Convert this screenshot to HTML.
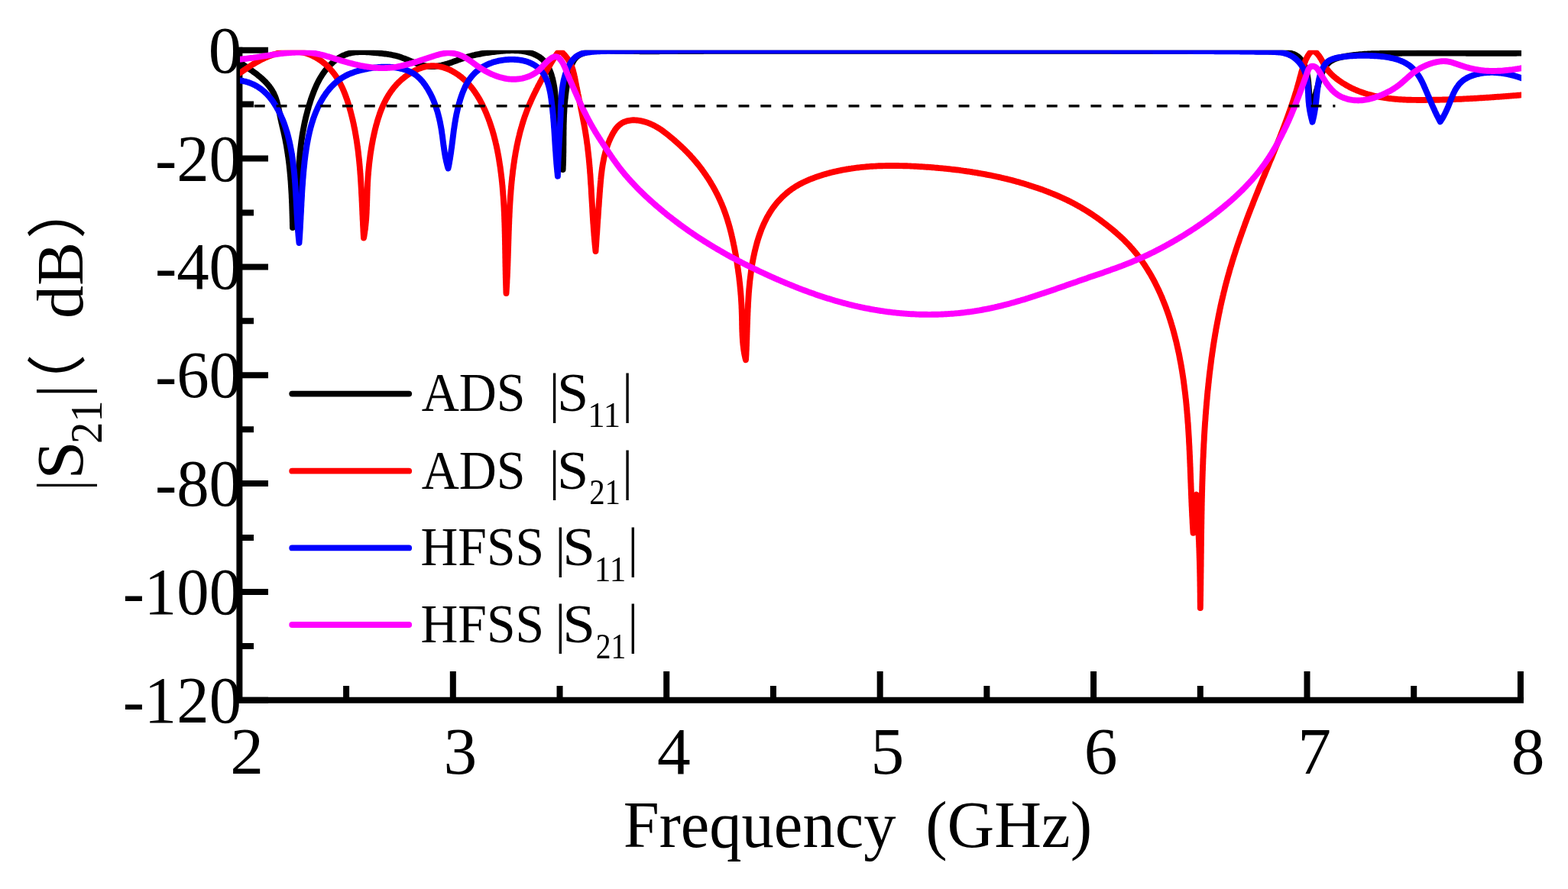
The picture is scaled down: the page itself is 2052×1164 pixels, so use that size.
<!DOCTYPE html>
<html><head><meta charset="utf-8"><title>S-parameters</title>
<style>html,body{margin:0;padding:0;background:#fff;}svg{display:block;}</style></head>
<body>
<svg width="2052" height="1164" viewBox="0 0 2052 1164">
<rect width="2052" height="1164" fill="#fff"/>
<defs><clipPath id="c"><rect x="314" y="65.70" width="1677" height="851.10"/></clipPath></defs>
<path d="M313.4,61.70 V916.80 H1993.92" fill="none" stroke="#000" stroke-width="8.0" stroke-linejoin="miter"/>
<path d="M313.4,65.70 H351 M313.4,207.55 H351 M313.4,349.40 H351 M313.4,491.25 H351 M313.4,633.10 H351 M313.4,774.95 H351 M313.4,916.80 H351 M313.4,136.62 H332 M313.4,278.48 H332 M313.4,420.32 H332 M313.4,562.18 H332 M313.4,704.03 H332 M313.4,845.88 H332 M592.82,916.80 V879 M872.24,916.80 V879 M1151.66,916.80 V879 M1431.08,916.80 V879 M1710.50,916.80 V879 M1989.92,916.80 V879 M453.11,916.80 V898 M732.53,916.80 V898 M1011.95,916.80 V898 M1291.37,916.80 V898 M1570.79,916.80 V898 M1850.21,916.80 V898" stroke="#000" stroke-width="8.0" fill="none"/>
<g clip-path="url(#c)" fill="none" stroke-width="7.90" stroke-linejoin="round" stroke-linecap="round">
<path stroke="#000" d="M314.0 82.0L315.3 82.9 316.6 83.7 318.0 84.6 319.3 85.5 320.6 86.4 322.0 87.3 323.3 88.2 324.7 89.1 326.0 90.0 327.4 91.0 328.7 91.9 330.1 92.8 331.4 93.8 332.7 94.8 334.0 95.7 335.3 96.7 336.6 97.7 337.9 98.8 339.2 99.8 340.4 100.8 341.7 101.9 342.9 103.0 344.1 104.1 345.2 105.2 346.4 106.3 347.5 107.4 348.6 108.6 349.7 109.8 350.7 111.0 351.7 112.2 352.7 113.4 353.6 114.7 354.5 116.0 355.4 117.3 356.2 118.6 357.0 120.0 357.8 121.3 358.5 122.7 359.1 124.1 359.8 125.6 360.4 127.1 360.9 128.5 361.4 130.0 361.9 131.6 362.4 133.1 362.8 134.7 363.2 136.2 363.6 137.8 364.0 139.4 364.4 141.0 364.7 142.6 365.0 144.2 365.4 145.8 365.7 147.4 366.0 149.0 366.3 150.6 366.6 152.2 367.0 153.9 367.3 155.5 367.6 157.1 368.0 158.6 368.3 160.2 368.7 161.8 369.1 163.4 369.4 165.0 369.8 166.5 370.2 168.1 370.5 169.7 370.9 171.2 371.3 172.8 371.6 174.4 372.0 175.9 372.3 177.5 372.6 179.1 373.0 180.7 373.3 182.2 373.6 183.8 373.9 185.4 374.2 187.0 374.5 188.6 374.8 190.1 375.1 191.7 375.3 193.3 375.6 194.9 375.8 196.5 376.1 198.1 376.3 199.7 376.6 201.3 376.8 202.9 377.0 204.5 377.3 206.1 377.5 207.7 377.7 209.3 377.9 210.9 378.1 212.5 378.3 214.1 378.5 215.7 378.7 217.3 378.8 218.9 379.0 220.5 379.2 222.1 379.3 223.7 379.5 225.3 379.6 226.9 379.8 228.6 379.9 230.2 380.1 231.8 380.2 233.4 380.3 235.0 380.5 236.6 380.6 238.2 380.7 239.8 380.8 241.5 380.9 243.1 381.0 244.7 381.1 246.3 381.2 247.9 381.3 249.5 381.4 251.2 381.5 252.8 381.6 254.4 381.7 256.0 381.7 257.6 381.8 259.3 381.9 260.9 382.0 262.5 382.0 264.1 382.1 265.7 382.2 267.3 382.2 269.0 382.3 270.6 382.3 272.2 382.4 273.8 382.4 275.4 382.5 277.0 382.5 278.7 382.6 280.3 382.6 281.9 382.7 283.5 382.7 285.1 382.8 286.7 382.8 288.3 382.8 290.0 382.9 291.6 382.9 293.2 382.9 294.8 383.0 296.4 383.0 298.0 383.2 296.4 383.3 294.8 383.5 293.2 383.7 291.6 383.9 290.0 384.1 288.4 384.3 286.8 384.5 285.2 384.7 283.6 385.0 282.0 385.2 280.4 385.4 278.9 385.6 277.3 385.9 275.7 386.1 274.1 386.3 272.5 386.5 270.9 386.8 269.3 387.0 267.7 387.2 266.1 387.4 264.6 387.6 263.0 387.8 261.4 388.1 259.8 388.3 258.2 388.4 256.6 388.6 255.0 388.8 253.4 389.0 251.8 389.2 250.2 389.3 248.6 389.5 247.0 389.6 245.4 389.7 243.8 389.9 242.2 390.0 240.6 390.1 239.0 390.2 237.4 390.3 235.8 390.4 234.2 390.5 232.6 390.6 230.9 390.7 229.3 390.8 227.7 390.9 226.1 391.0 224.5 391.0 222.9 391.1 221.3 391.2 219.7 391.3 218.1 391.4 216.4 391.5 214.8 391.6 213.2 391.7 211.6 391.8 210.0 392.0 208.4 392.1 206.8 392.2 205.2 392.4 203.6 392.5 202.0 392.6 200.4 392.8 198.8 393.0 197.2 393.1 195.6 393.3 194.0 393.5 192.4 393.7 190.9 393.9 189.3 394.1 187.7 394.3 186.1 394.5 184.5 394.7 182.9 395.0 181.3 395.2 179.8 395.4 178.2 395.7 176.6 395.9 175.0 396.2 173.5 396.5 171.9 396.8 170.3 397.1 168.7 397.4 167.2 397.7 165.6 398.0 164.0 398.3 162.5 398.6 160.9 399.0 159.3 399.3 157.8 399.7 156.2 400.0 154.6 400.4 153.1 400.8 151.5 401.2 150.0 401.6 148.4 402.0 146.9 402.4 145.3 402.8 143.8 403.3 142.2 403.7 140.7 404.1 139.1 404.6 137.6 405.1 136.0 405.6 134.5 406.0 132.9 406.5 131.4 407.0 129.8 407.6 128.3 408.1 126.8 408.6 125.2 409.2 123.7 409.8 122.2 410.3 120.7 410.9 119.2 411.5 117.7 412.2 116.2 412.8 114.7 413.5 113.2 414.1 111.7 414.8 110.2 415.5 108.8 416.2 107.4 417.0 105.9 417.7 104.5 418.5 103.1 419.3 101.7 420.2 100.3 421.0 99.0 421.9 97.6 422.8 96.3 423.7 95.0 424.6 93.7 425.6 92.4 426.6 91.2 427.6 89.9 428.6 88.7 429.7 87.5 430.8 86.3 431.9 85.2 433.0 84.1 434.2 83.0 435.4 81.9 436.6 80.8 437.8 79.8 439.0 78.9 440.3 77.9 441.6 77.0 442.9 76.1 444.3 75.3 445.6 74.5 447.0 73.8 448.4 73.1 449.8 72.4 451.3 71.8 452.7 71.2 454.2 70.7 455.7 70.2 457.2 69.8 458.8 69.5 460.3 69.1 461.9 68.9 463.5 68.6 465.0 68.4 466.6 68.3 468.3 68.2 469.9 68.1 471.5 68.1 473.1 68.0 474.8 68.0 476.4 68.1 478.1 68.1 479.7 68.2 481.3 68.3 483.0 68.4 484.6 68.5 486.3 68.7 487.9 68.8 489.6 69.0 491.2 69.1 492.8 69.3 494.4 69.4 496.0 69.6 497.6 69.8 499.2 69.9 500.8 70.1 502.4 70.3 503.9 70.5 505.5 70.7 507.1 70.9 508.6 71.2 510.2 71.4 511.7 71.7 513.2 72.0 514.8 72.3 516.3 72.6 517.9 73.0 519.4 73.4 520.9 73.8 522.5 74.3 524.0 74.8 525.5 75.3 527.0 75.9 528.6 76.4 530.1 77.0 531.6 77.6 533.2 78.2 534.7 78.9 536.2 79.5 537.7 80.1 539.3 80.7 540.8 81.4 542.3 82.0 543.9 82.5 545.4 83.1 546.9 83.7 548.5 84.2 550.0 84.7 551.5 85.1 553.0 85.5 554.6 85.9 556.1 86.2 557.7 86.5 559.2 86.7 560.7 86.9 562.3 87.0 563.8 87.1 565.3 87.1 566.9 87.0 568.4 87.0 570.0 86.8 571.5 86.6 573.1 86.4 574.6 86.1 576.2 85.8 577.7 85.5 579.3 85.1 580.8 84.7 582.4 84.3 583.9 83.9 585.5 83.4 587.0 82.9 588.6 82.4 590.1 81.9 591.7 81.4 593.2 80.8 594.8 80.3 596.3 79.7 597.9 79.2 599.4 78.6 600.9 78.1 602.5 77.5 604.0 77.0 605.6 76.5 607.1 76.0 608.7 75.4 610.2 75.0 611.8 74.5 613.3 74.0 614.9 73.6 616.4 73.2 617.9 72.8 619.5 72.4 621.0 72.1 622.6 71.7 624.1 71.4 625.7 71.1 627.2 70.8 628.8 70.5 630.3 70.2 631.9 69.9 633.4 69.7 635.0 69.4 636.6 69.2 638.1 69.0 639.7 68.8 641.3 68.5 642.9 68.3 644.4 68.1 646.0 68.0 647.6 67.8 649.2 67.6 650.8 67.4 652.5 67.2 654.1 67.1 655.7 66.9 657.3 66.8 659.0 66.6 660.6 66.5 662.2 66.4 663.9 66.3 665.5 66.2 667.1 66.2 668.8 66.1 670.4 66.1 672.0 66.1 673.7 66.2 675.3 66.2 676.9 66.3 678.5 66.4 680.1 66.5 681.7 66.7 683.3 66.9 684.9 67.1 686.5 67.4 688.1 67.7 689.7 68.0 691.2 68.4 692.8 68.8 694.3 69.3 695.8 69.8 697.3 70.3 698.8 70.9 700.2 71.6 701.6 72.2 703.0 73.0 704.4 73.7 705.7 74.6 706.9 75.4 708.2 76.4 709.4 77.4 710.5 78.4 711.6 79.5 712.6 80.6 713.6 81.8 714.6 83.1 715.5 84.4 716.3 85.7 717.1 87.1 717.8 88.5 718.5 89.9 719.2 91.4 719.8 92.9 720.4 94.5 721.0 96.0 721.5 97.5 722.0 99.1 722.4 100.7 722.9 102.2 723.3 103.8 723.6 105.4 724.0 107.0 724.3 108.6 724.6 110.1 724.9 111.7 725.2 113.3 725.4 114.9 725.7 116.5 725.9 118.1 726.1 119.7 726.3 121.3 726.4 122.9 726.6 124.5 726.8 126.1 726.9 127.7 727.0 129.3 727.2 131.0 727.3 132.6 727.4 134.2 727.5 135.8 727.6 137.4 727.7 139.0 727.8 140.6 728.0 142.2 728.1 143.8 728.2 145.4 728.3 147.0 728.4 148.6 728.5 150.2 728.6 151.8 728.7 153.4 728.9 155.0 729.0 156.6 729.1 158.2 729.2 159.8 729.3 161.4 729.5 163.0 729.6 164.6 729.7 166.2 729.8 167.8 730.0 169.4 730.1 171.0 730.3 172.6 730.4 174.2 730.5 175.8 730.7 177.4 730.8 179.0 731.0 180.6 731.2 182.2 731.3 183.8 731.5 185.4 731.7 187.0 731.8 188.6 732.0 190.2 732.2 191.8 732.4 193.4 732.6 195.0 732.8 196.6 733.0 198.1 733.2 199.7 733.4 201.3 733.6 202.9 733.8 204.5 734.0 206.1 734.3 207.7 734.5 209.3 734.7 210.9 735.0 212.5 735.2 214.1 735.5 215.6 735.8 217.2 736.0 218.8 736.3 220.4 736.6 222.0 736.7 220.4 736.7 218.8 736.8 217.2 736.9 215.7 736.9 214.1 737.0 212.5 737.0 210.9 737.1 209.3 737.1 207.7 737.1 206.1 737.2 204.5 737.2 202.8 737.2 201.2 737.3 199.6 737.3 198.0 737.3 196.4 737.3 194.8 737.3 193.2 737.3 191.6 737.4 189.9 737.4 188.3 737.4 186.7 737.4 185.1 737.4 183.5 737.4 181.9 737.4 180.3 737.4 178.6 737.5 177.0 737.5 175.4 737.5 173.8 737.5 172.2 737.5 170.6 737.6 169.0 737.6 167.4 737.6 165.8 737.6 164.2 737.7 162.6 737.7 161.0 737.8 159.4 737.8 157.8 737.9 156.2 737.9 154.6 738.0 153.0 738.0 151.4 738.1 149.8 738.2 148.2 738.3 146.6 738.4 145.1 738.4 143.5 738.5 141.9 738.7 140.3 738.8 138.7 738.9 137.2 739.0 135.6 739.1 134.0 739.3 132.4 739.4 130.8 739.6 129.2 739.8 127.6 739.9 126.1 740.1 124.5 740.3 122.9 740.5 121.3 740.7 119.7 740.9 118.1 741.2 116.5 741.4 114.9 741.7 113.3 741.9 111.7 742.2 110.1 742.5 108.5 742.7 106.9 743.0 105.3 743.4 103.7 743.7 102.0 744.0 100.4 744.4 98.8 744.7 97.2 745.1 95.5 745.5 93.9 745.9 92.3 746.3 90.6 746.8 89.0 747.3 87.4 747.8 85.9 748.4 84.4 749.0 82.9 749.6 81.5 750.4 80.1 751.2 78.8 752.0 77.5 752.9 76.4 753.9 75.3 755.0 74.3 756.2 73.4 757.4 72.5 758.7 71.8 760.0 71.1 761.4 70.4 762.9 69.9 764.3 69.4 765.8 68.9 767.4 68.5 768.9 68.1 770.5 67.8 772.1 67.5 773.6 67.3 775.2 67.1 776.8 66.9 778.4 66.7 780.0 66.6 781.6 66.5 783.2 66.4 784.8 66.4 786.4 66.3 788.0 66.3 789.6 66.3 791.2 66.3 792.8 66.3 794.4 66.3 796.0 66.4 797.7 66.4 799.3 66.5 800.9 66.5 802.5 66.6 804.1 66.6 805.7 66.7 807.4 66.7 809.0 66.8 810.6 66.8 812.2 66.8 813.8 66.9 815.4 66.9 817.0 66.9 818.6 67.0 820.3 67.0 821.9 67.0 823.5 67.0 825.1 67.1 826.7 67.1 828.3 67.1 829.9 67.1 831.5 67.1 833.1 67.1 834.7 67.1 836.3 67.1 837.9 67.2 839.6 67.2 841.2 67.2 842.8 67.2 844.4 67.2 846.0 67.2 847.6 67.2 849.2 67.2 850.8 67.2 852.4 67.2 854.0 67.2 855.6 67.2 857.2 67.2 858.8 67.2 860.4 67.2 862.0 67.2 863.6 67.1 865.2 67.1 866.8 67.1 868.4 67.1 870.0 67.1 871.6 67.1 873.2 67.1 874.8 67.1 876.4 67.1 878.1 67.1 879.7 67.1 881.3 67.1 882.9 67.1 884.5 67.1 886.1 67.1 887.7 67.1 889.3 67.0 890.9 67.0 892.5 67.0 894.1 67.0 895.7 67.0 897.3 67.0 898.9 67.0 900.5 67.0 902.1 67.0 903.7 67.0 905.3 67.0 906.9 67.0 908.5 67.0 910.1 67.0 911.7 67.0 913.3 67.0 914.9 67.0 916.5 67.0 918.1 67.0 919.7 67.0 921.3 66.9 922.9 66.9 924.5 66.9 926.2 66.9 927.8 66.9 929.4 66.9 931.0 66.9 932.6 66.9 934.2 66.9 935.8 66.9 937.4 66.9 939.0 66.9 940.6 66.9 942.2 66.9 943.8 66.9 945.4 66.9 947.0 66.9 948.6 66.9 950.2 66.9 951.8 66.9 953.4 66.9 955.0 66.9 956.6 66.9 958.2 66.9 959.8 66.9 961.4 66.9 963.0 66.9 964.6 66.8 966.2 66.8 967.8 66.8 969.4 66.8 971.0 66.8 972.7 66.8 974.3 66.8 975.9 66.8 977.5 66.8 979.1 66.8 980.7 66.8 982.3 66.8 983.9 66.8 985.5 66.8 987.1 66.8 988.7 66.8 990.3 66.8 991.9 66.8 993.5 66.8 995.1 66.8 996.7 66.8 998.3 66.8 999.9 66.8 1001.5 66.8 1003.1 66.8 1004.7 66.8 1006.3 66.8 1007.9 66.8 1009.5 66.8 1011.1 66.8 1012.7 66.8 1014.3 66.8 1015.9 66.8 1017.6 66.8 1019.2 66.8 1020.8 66.8 1022.4 66.8 1024.0 66.8 1025.6 66.8 1027.2 66.8 1028.8 66.8 1030.4 66.8 1032.0 66.8 1033.6 66.8 1035.2 66.8 1036.8 66.8 1038.4 66.8 1040.0 66.8 1041.6 66.8 1043.2 66.8 1044.8 66.7 1046.4 66.7 1048.0 66.7 1049.6 66.7 1051.2 66.7 1052.8 66.7 1054.4 66.7 1056.0 66.7 1057.6 66.7 1059.2 66.7 1060.9 66.7 1062.5 66.7 1064.1 66.7 1065.7 66.7 1067.3 66.7 1068.9 66.7 1070.5 66.7 1072.1 66.7 1073.7 66.7 1075.3 66.7 1076.9 66.7 1078.5 66.7 1080.1 66.7 1081.7 66.7 1083.3 66.7 1084.9 66.7 1086.5 66.7 1088.1 66.7 1089.7 66.7 1091.3 66.7 1092.9 66.7 1094.5 66.7 1096.1 66.7 1097.7 66.7 1099.3 66.7 1101.0 66.7 1102.6 66.7 1104.2 66.7 1105.8 66.7 1107.4 66.7 1109.0 66.7 1110.6 66.7 1112.2 66.7 1113.8 66.7 1115.4 66.7 1117.0 66.7 1118.6 66.7 1120.2 66.7 1121.8 66.7 1123.4 66.7 1125.0 66.7 1126.6 66.7 1128.2 66.7 1129.8 66.7 1131.4 66.7 1133.0 66.7 1134.6 66.7 1136.2 66.7 1137.8 66.7 1139.5 66.7 1141.1 66.7 1142.7 66.7 1144.3 66.7 1145.9 66.7 1147.5 66.7 1149.1 66.7 1150.7 66.7 1152.3 66.7 1153.9 66.8 1155.5 66.8 1157.1 66.8 1158.7 66.8 1160.3 66.8 1161.9 66.8 1163.5 66.8 1165.1 66.8 1166.7 66.8 1168.3 66.8 1169.9 66.8 1171.5 66.8 1173.1 66.8 1174.7 66.8 1176.4 66.8 1178.0 66.8 1179.6 66.8 1181.2 66.8 1182.8 66.8 1184.4 66.8 1186.0 66.8 1187.6 66.8 1189.2 66.8 1190.8 66.8 1192.4 66.8 1194.0 66.8 1195.6 66.8 1197.2 66.8 1198.8 66.8 1200.4 66.8 1202.0 66.8 1203.6 66.8 1205.2 66.8 1206.8 66.8 1208.4 66.8 1210.0 66.8 1211.7 66.8 1213.3 66.8 1214.9 66.8 1216.5 66.8 1218.1 66.8 1219.7 66.8 1221.3 66.8 1222.9 66.8 1224.5 66.8 1226.1 66.8 1227.7 66.8 1229.3 66.8 1230.9 66.8 1232.5 66.8 1234.1 66.8 1235.7 66.8 1237.3 66.8 1238.9 66.8 1240.5 66.8 1242.1 66.8 1243.7 66.8 1245.3 66.8 1247.0 66.8 1248.6 66.8 1250.2 66.8 1251.8 66.8 1253.4 66.8 1255.0 66.8 1256.6 66.8 1258.2 66.8 1259.8 66.8 1261.4 66.8 1263.0 66.8 1264.6 66.8 1266.2 66.8 1267.8 66.8 1269.4 66.8 1271.0 66.8 1272.6 66.8 1274.2 66.8 1275.8 66.8 1277.4 66.8 1279.0 66.8 1280.7 66.8 1282.3 66.8 1283.9 66.8 1285.5 66.8 1287.1 66.8 1288.7 66.8 1290.3 66.8 1291.9 66.9 1293.5 66.9 1295.1 66.9 1296.7 66.9 1298.3 66.9 1299.9 66.9 1301.5 66.9 1303.1 66.9 1304.7 66.9 1306.3 66.9 1307.9 66.9 1309.5 66.9 1311.1 66.9 1312.7 66.9 1314.4 66.9 1316.0 66.9 1317.6 66.9 1319.2 66.9 1320.8 66.9 1322.4 66.9 1324.0 66.9 1325.6 66.9 1327.2 66.9 1328.8 66.9 1330.4 66.9 1332.0 66.9 1333.6 66.9 1335.2 66.9 1336.8 66.9 1338.4 66.9 1340.0 66.9 1341.6 66.9 1343.2 66.9 1344.8 66.9 1346.4 66.9 1348.0 66.9 1349.6 66.9 1351.3 66.9 1352.9 66.9 1354.5 66.9 1356.1 66.9 1357.7 66.9 1359.3 66.9 1360.9 66.9 1362.5 66.9 1364.1 66.9 1365.7 66.9 1367.3 66.9 1368.9 66.9 1370.5 66.9 1372.1 66.9 1373.7 66.9 1375.3 66.9 1376.9 66.9 1378.5 66.9 1380.1 66.9 1381.7 66.9 1383.3 66.9 1384.9 66.9 1386.5 66.9 1388.2 66.9 1389.8 66.9 1391.4 66.9 1393.0 66.9 1394.6 66.9 1396.2 66.9 1397.8 66.9 1399.4 66.9 1401.0 66.9 1402.6 66.9 1404.2 66.9 1405.8 66.9 1407.4 66.9 1409.0 66.9 1410.6 66.9 1412.2 66.9 1413.8 66.9 1415.4 66.9 1417.0 66.9 1418.6 66.9 1420.2 66.9 1421.8 66.9 1423.4 66.9 1425.0 66.9 1426.6 66.9 1428.2 66.9 1429.8 66.9 1431.5 66.9 1433.1 66.9 1434.7 66.9 1436.3 66.9 1437.9 66.9 1439.5 66.9 1441.1 66.9 1442.7 66.9 1444.3 66.9 1445.9 66.9 1447.5 66.8 1449.1 66.8 1450.7 66.8 1452.3 66.8 1453.9 66.8 1455.5 66.8 1457.1 66.8 1458.7 66.8 1460.3 66.8 1461.9 66.8 1463.5 66.8 1465.1 66.8 1466.7 66.8 1468.3 66.8 1469.9 66.8 1471.5 66.8 1473.1 66.8 1474.7 66.8 1476.3 66.8 1477.9 66.8 1479.5 66.8 1481.1 66.8 1482.7 66.8 1484.3 66.8 1486.0 66.8 1487.6 66.8 1489.2 66.8 1490.8 66.8 1492.4 66.8 1494.0 66.8 1495.6 66.8 1497.2 66.8 1498.8 66.8 1500.4 66.8 1502.0 66.8 1503.6 66.8 1505.2 66.8 1506.8 66.8 1508.4 66.7 1510.0 66.7 1511.6 66.7 1513.2 66.7 1514.8 66.7 1516.4 66.7 1518.0 66.7 1519.6 66.7 1521.2 66.7 1522.8 66.7 1524.4 66.7 1526.0 66.7 1527.6 66.7 1529.2 66.7 1530.8 66.7 1532.4 66.7 1534.0 66.7 1535.6 66.7 1537.2 66.7 1538.8 66.7 1540.4 66.7 1542.0 66.7 1543.6 66.7 1545.2 66.7 1546.8 66.7 1548.4 66.7 1550.0 66.7 1551.6 66.7 1553.2 66.7 1554.8 66.6 1556.4 66.6 1558.0 66.6 1559.7 66.6 1561.3 66.6 1562.9 66.6 1564.5 66.6 1566.1 66.6 1567.7 66.6 1569.3 66.6 1570.9 66.6 1572.5 66.6 1574.1 66.6 1575.7 66.6 1577.3 66.6 1578.9 66.7 1580.5 66.7 1582.1 66.7 1583.7 66.7 1585.3 66.7 1586.9 66.7 1588.5 66.7 1590.1 66.7 1591.7 66.7 1593.3 66.7 1595.0 66.7 1596.6 66.7 1598.2 66.7 1599.8 66.7 1601.4 66.7 1603.0 66.7 1604.6 66.7 1606.2 66.8 1607.8 66.8 1609.4 66.8 1611.0 66.8 1612.6 66.8 1614.3 66.8 1615.9 66.8 1617.5 66.8 1619.1 66.8 1620.7 66.9 1622.3 66.9 1623.9 66.9 1625.5 66.9 1627.1 66.9 1628.8 66.9 1630.4 67.0 1632.0 67.0 1633.6 67.0 1635.2 67.0 1636.8 67.0 1638.4 67.1 1640.0 67.1 1641.7 67.1 1643.3 67.1 1644.9 67.2 1646.5 67.2 1648.1 67.2 1649.7 67.2 1651.4 67.3 1653.0 67.3 1654.6 67.3 1656.2 67.4 1657.8 67.4 1659.5 67.4 1661.1 67.5 1662.7 67.5 1664.3 67.5 1665.9 67.6 1667.6 67.6 1669.2 67.6 1670.8 67.7 1672.4 67.7 1674.0 67.8 1675.6 67.8 1677.2 67.9 1678.8 68.0 1680.4 68.2 1682.0 68.3 1683.5 68.5 1685.0 68.7 1686.5 69.0 1688.0 69.3 1689.4 69.7 1690.9 70.2 1692.2 70.6 1693.6 71.2 1694.9 71.8 1696.2 72.5 1697.4 73.3 1698.6 74.1 1699.7 75.0 1700.8 76.1 1701.9 77.2 1702.8 78.4 1703.8 79.7 1704.7 81.1 1705.5 82.5 1706.3 84.1 1707.0 85.7 1707.7 87.3 1708.3 89.0 1708.9 90.7 1709.4 92.4 1709.9 94.2 1710.3 95.9 1710.7 97.6 1711.0 99.3 1711.3 101.0 1711.6 102.7 1711.8 104.3 1712.0 105.9 1712.2 107.5 1712.3 109.0 1712.4 110.6 1712.6 112.1 1712.7 113.6 1712.8 115.2 1712.9 116.7 1713.0 118.2 1713.1 119.7 1713.2 121.2 1713.4 122.7 1713.6 124.2 1713.8 125.7 1714.0 127.2 1714.3 128.8 1714.6 130.3 1714.9 131.9 1715.3 133.5 1715.8 135.1 1716.3 136.7 1716.9 138.3 1717.5 140.0 1717.9 138.4 1718.2 136.9 1718.6 135.3 1719.0 133.7 1719.4 132.2 1719.8 130.6 1720.2 129.1 1720.6 127.5 1721.0 126.0 1721.4 124.4 1721.8 122.9 1722.2 121.4 1722.6 119.8 1723.1 118.2 1723.5 116.7 1723.9 115.1 1724.4 113.6 1724.8 112.0 1725.2 110.4 1725.7 108.8 1726.1 107.2 1726.6 105.6 1727.1 104.1 1727.5 102.5 1728.1 100.9 1728.6 99.3 1729.1 97.8 1729.7 96.3 1730.4 94.8 1731.0 93.3 1731.7 91.8 1732.5 90.4 1733.3 89.1 1734.1 87.7 1735.0 86.5 1735.9 85.3 1736.9 84.1 1738.0 83.0 1739.1 82.0 1740.3 81.0 1741.5 80.2 1742.8 79.4 1744.1 78.6 1745.5 77.9 1746.9 77.3 1748.4 76.8 1749.9 76.3 1751.5 75.8 1753.0 75.4 1754.6 75.0 1756.2 74.6 1757.8 74.3 1759.5 74.0 1761.1 73.7 1762.7 73.4 1764.3 73.1 1766.0 72.9 1767.6 72.6 1769.2 72.4 1770.8 72.2 1772.5 72.0 1774.1 71.8 1775.7 71.6 1777.4 71.5 1779.0 71.3 1780.6 71.2 1782.2 71.1 1783.8 70.9 1785.4 70.8 1787.1 70.7 1788.7 70.6 1790.3 70.5 1791.9 70.5 1793.5 70.4 1795.1 70.3 1796.7 70.3 1798.3 70.2 1799.9 70.2 1801.6 70.1 1803.2 70.1 1804.8 70.1 1806.4 70.0 1808.0 70.0 1809.6 70.0 1811.2 69.9 1812.8 69.9 1814.4 69.9 1816.0 69.9 1817.6 69.8 1819.2 69.8 1820.9 69.8 1822.5 69.8 1824.1 69.8 1825.7 69.7 1827.3 69.7 1828.9 69.7 1830.5 69.7 1832.1 69.7 1833.7 69.7 1835.3 69.6 1837.0 69.6 1838.6 69.6 1840.2 69.6 1841.8 69.6 1843.4 69.6 1845.0 69.6 1846.6 69.6 1848.2 69.6 1849.9 69.6 1851.5 69.6 1853.1 69.6 1854.7 69.5 1856.3 69.5 1857.9 69.5 1859.5 69.5 1861.2 69.5 1862.8 69.5 1864.4 69.5 1866.0 69.5 1867.6 69.5 1869.2 69.5 1870.8 69.5 1872.5 69.5 1874.1 69.5 1875.7 69.5 1877.3 69.5 1878.9 69.5 1880.5 69.5 1882.2 69.5 1883.8 69.5 1885.4 69.5 1887.0 69.5 1888.6 69.6 1890.2 69.6 1891.9 69.6 1893.5 69.6 1895.1 69.6 1896.7 69.6 1898.3 69.6 1899.9 69.6 1901.6 69.6 1903.2 69.6 1904.8 69.6 1906.4 69.6 1908.0 69.6 1909.6 69.6 1911.3 69.6 1912.9 69.6 1914.5 69.6 1916.1 69.6 1917.7 69.6 1919.3 69.7 1921.0 69.7 1922.6 69.7 1924.2 69.7 1925.8 69.7 1927.4 69.7 1929.0 69.7 1930.7 69.7 1932.3 69.7 1933.9 69.7 1935.5 69.7 1937.1 69.7 1938.7 69.7 1940.4 69.7 1942.0 69.7 1943.6 69.7 1945.2 69.7 1946.8 69.7 1948.4 69.7 1950.0 69.7 1951.7 69.7 1953.3 69.7 1954.9 69.7 1956.5 69.7 1958.1 69.7 1959.7 69.7 1961.4 69.7 1963.0 69.7 1964.6 69.7 1966.2 69.7 1967.8 69.7 1969.4 69.7 1971.0 69.7 1972.7 69.7 1974.3 69.7 1975.9 69.7 1977.5 69.7 1979.1 69.7 1980.7 69.7 1982.3 69.7 1983.9 69.7 1985.6 69.6 1987.2 69.6 1988.8 69.6 1990.4 69.6 1992.0 69.6"/>
<path stroke="#f00" d="M314.0 95.5L315.3 94.6 316.7 93.7 318.0 92.8 319.3 91.9 320.7 91.0 322.0 90.1 323.3 89.2 324.7 88.3 326.0 87.4 327.4 86.5 328.7 85.7 330.1 84.8 331.4 84.0 332.8 83.2 334.2 82.4 335.6 81.6 337.0 80.8 338.4 80.0 339.8 79.2 341.2 78.5 342.6 77.8 344.0 77.1 345.5 76.4 346.9 75.7 348.4 75.1 349.9 74.4 351.4 73.8 352.9 73.2 354.4 72.7 356.0 72.1 357.5 71.6 359.1 71.1 360.6 70.7 362.2 70.2 363.8 69.8 365.4 69.4 367.0 69.1 368.6 68.8 370.2 68.5 371.8 68.2 373.5 68.0 375.1 67.8 376.7 67.6 378.3 67.5 379.9 67.4 381.6 67.3 383.2 67.3 384.8 67.3 386.4 67.4 388.0 67.5 389.6 67.6 391.2 67.8 392.7 68.0 394.3 68.3 395.9 68.6 397.4 68.9 398.9 69.3 400.5 69.8 402.0 70.2 403.5 70.7 404.9 71.3 406.4 71.9 407.9 72.5 409.3 73.2 410.7 73.9 412.1 74.6 413.5 75.4 414.9 76.2 416.3 77.0 417.6 77.9 418.9 78.8 420.2 79.7 421.5 80.6 422.8 81.6 424.0 82.6 425.2 83.7 426.5 84.7 427.6 85.8 428.8 87.0 430.0 88.1 431.1 89.3 432.2 90.4 433.2 91.7 434.3 92.9 435.3 94.1 436.3 95.4 437.3 96.7 438.3 98.0 439.2 99.3 440.1 100.6 441.0 102.0 441.9 103.4 442.7 104.7 443.5 106.1 444.3 107.5 445.1 108.9 445.8 110.4 446.5 111.8 447.2 113.3 447.9 114.7 448.6 116.2 449.2 117.7 449.9 119.2 450.5 120.7 451.1 122.2 451.7 123.7 452.2 125.2 452.8 126.7 453.3 128.3 453.9 129.8 454.4 131.3 454.9 132.9 455.4 134.4 455.9 136.0 456.3 137.5 456.8 139.1 457.3 140.6 457.7 142.2 458.1 143.7 458.6 145.3 459.0 146.8 459.4 148.4 459.8 150.0 460.2 151.5 460.6 153.1 461.0 154.7 461.4 156.2 461.7 157.8 462.1 159.4 462.4 160.9 462.8 162.5 463.1 164.1 463.4 165.7 463.7 167.2 464.1 168.8 464.4 170.4 464.7 172.0 464.9 173.6 465.2 175.1 465.5 176.7 465.8 178.3 466.0 179.9 466.3 181.5 466.6 183.1 466.8 184.6 467.0 186.2 467.3 187.8 467.5 189.4 467.7 191.0 467.9 192.6 468.2 194.2 468.4 195.8 468.6 197.4 468.8 199.0 469.0 200.6 469.1 202.2 469.3 203.8 469.5 205.4 469.7 207.0 469.8 208.6 470.0 210.2 470.2 211.8 470.3 213.4 470.5 215.0 470.6 216.6 470.8 218.2 470.9 219.8 471.0 221.4 471.2 223.0 471.3 224.6 471.4 226.2 471.5 227.8 471.7 229.4 471.8 231.0 471.9 232.7 472.0 234.3 472.1 235.9 472.2 237.5 472.3 239.1 472.4 240.7 472.5 242.3 472.6 243.9 472.7 245.5 472.8 247.1 472.9 248.8 473.0 250.4 473.0 252.0 473.1 253.6 473.2 255.2 473.3 256.8 473.4 258.4 473.5 260.0 473.5 261.6 473.6 263.3 473.7 264.9 473.8 266.5 473.8 268.1 473.9 269.7 474.0 271.3 474.1 272.9 474.1 274.5 474.2 276.1 474.3 277.8 474.3 279.4 474.4 281.0 474.5 282.6 474.6 284.2 474.6 285.8 474.7 287.4 474.8 289.0 474.9 290.6 475.0 292.2 475.0 293.8 475.1 295.5 475.2 297.1 475.3 298.7 475.4 300.3 475.4 301.9 475.5 303.5 475.6 305.1 475.7 306.7 475.8 308.3 475.9 309.9 476.0 311.5 476.3 309.9 476.6 308.4 476.8 306.8 477.1 305.2 477.3 303.6 477.5 302.1 477.8 300.5 478.0 298.9 478.1 297.3 478.3 295.7 478.5 294.1 478.6 292.5 478.8 290.9 478.9 289.3 479.1 287.7 479.2 286.1 479.3 284.5 479.4 282.9 479.5 281.3 479.6 279.7 479.7 278.1 479.7 276.5 479.8 274.9 479.9 273.3 479.9 271.7 480.0 270.1 480.1 268.5 480.1 266.9 480.2 265.2 480.2 263.6 480.3 262.0 480.3 260.4 480.4 258.8 480.4 257.2 480.5 255.6 480.5 254.0 480.6 252.4 480.6 250.7 480.7 249.1 480.8 247.5 480.8 245.9 480.9 244.3 481.0 242.7 481.0 241.1 481.1 239.5 481.2 237.9 481.3 236.3 481.4 234.7 481.5 233.1 481.6 231.5 481.7 229.9 481.9 228.3 482.0 226.7 482.1 225.1 482.3 223.5 482.4 221.9 482.6 220.3 482.7 218.7 482.9 217.1 483.0 215.5 483.2 213.9 483.4 212.3 483.6 210.7 483.8 209.1 484.0 207.5 484.2 205.9 484.4 204.3 484.6 202.7 484.8 201.2 485.1 199.6 485.3 198.0 485.6 196.4 485.8 194.8 486.1 193.2 486.4 191.6 486.6 190.0 486.9 188.5 487.2 186.9 487.5 185.3 487.8 183.7 488.1 182.1 488.4 180.6 488.8 179.0 489.1 177.4 489.5 175.8 489.8 174.2 490.2 172.7 490.5 171.1 490.9 169.5 491.3 167.9 491.7 166.4 492.1 164.8 492.5 163.2 493.0 161.7 493.4 160.1 493.9 158.6 494.3 157.0 494.8 155.5 495.3 153.9 495.8 152.4 496.3 150.9 496.8 149.3 497.4 147.8 497.9 146.3 498.5 144.8 499.1 143.3 499.7 141.8 500.3 140.4 500.9 138.9 501.6 137.4 502.3 136.0 503.0 134.6 503.7 133.1 504.4 131.7 505.1 130.3 505.9 128.9 506.7 127.6 507.5 126.2 508.3 124.8 509.1 123.5 510.0 122.2 510.9 120.8 511.8 119.5 512.7 118.3 513.7 117.0 514.6 115.7 515.6 114.5 516.6 113.3 517.7 112.1 518.7 110.9 519.8 109.7 520.9 108.6 522.1 107.4 523.3 106.3 524.4 105.2 525.7 104.1 526.9 103.1 528.2 102.1 529.5 101.0 530.8 100.0 532.1 99.1 533.5 98.1 534.8 97.2 536.2 96.3 537.6 95.4 539.1 94.6 540.5 93.8 542.0 93.0 543.4 92.2 544.9 91.5 546.4 90.8 547.9 90.2 549.4 89.6 551.0 89.0 552.5 88.5 554.0 88.0 555.6 87.6 557.1 87.2 558.7 86.9 560.3 86.7 561.8 86.5 563.4 86.3 565.0 86.3 566.5 86.2 568.1 86.3 569.7 86.4 571.2 86.5 572.8 86.7 574.3 87.0 575.9 87.3 577.4 87.6 579.0 88.0 580.5 88.4 582.0 88.9 583.5 89.4 585.0 90.0 586.5 90.6 587.9 91.2 589.4 91.9 590.8 92.6 592.3 93.4 593.7 94.2 595.1 95.0 596.4 95.8 597.8 96.7 599.1 97.6 600.4 98.5 601.7 99.5 603.0 100.4 604.2 101.4 605.4 102.5 606.6 103.5 607.8 104.6 609.0 105.7 610.1 106.8 611.2 107.9 612.3 109.1 613.4 110.3 614.4 111.4 615.5 112.7 616.5 113.9 617.5 115.1 618.5 116.4 619.5 117.7 620.4 119.0 621.3 120.3 622.2 121.6 623.1 123.0 624.0 124.3 624.9 125.7 625.7 127.1 626.5 128.4 627.4 129.9 628.2 131.3 628.9 132.7 629.7 134.1 630.5 135.6 631.2 137.0 631.9 138.5 632.6 139.9 633.3 141.4 634.0 142.9 634.7 144.4 635.3 145.9 636.0 147.4 636.6 148.9 637.2 150.4 637.8 151.9 638.4 153.4 639.0 154.9 639.6 156.4 640.1 157.9 640.7 159.4 641.2 160.9 641.7 162.5 642.2 164.0 642.7 165.5 643.2 167.0 643.7 168.6 644.2 170.1 644.7 171.7 645.1 173.2 645.5 174.7 646.0 176.3 646.4 177.8 646.8 179.4 647.2 180.9 647.6 182.5 648.0 184.0 648.4 185.6 648.7 187.1 649.1 188.7 649.5 190.3 649.8 191.8 650.1 193.4 650.5 195.0 650.8 196.5 651.1 198.1 651.4 199.7 651.7 201.2 652.0 202.8 652.3 204.4 652.6 206.0 652.8 207.5 653.1 209.1 653.3 210.7 653.6 212.3 653.8 213.9 654.1 215.4 654.3 217.0 654.6 218.6 654.8 220.2 655.0 221.8 655.2 223.4 655.4 225.0 655.6 226.6 655.8 228.1 656.0 229.7 656.2 231.3 656.4 232.9 656.6 234.5 656.7 236.1 656.9 237.7 657.1 239.3 657.2 240.9 657.4 242.5 657.5 244.1 657.7 245.7 657.8 247.3 657.9 248.9 658.1 250.5 658.2 252.1 658.3 253.7 658.4 255.3 658.6 256.9 658.7 258.5 658.8 260.1 658.9 261.7 659.0 263.3 659.1 264.9 659.2 266.5 659.3 268.2 659.4 269.8 659.5 271.4 659.6 273.0 659.6 274.6 659.7 276.2 659.8 277.8 659.9 279.4 659.9 281.0 660.0 282.6 660.1 284.2 660.1 285.9 660.2 287.5 660.2 289.1 660.3 290.7 660.4 292.3 660.4 293.9 660.5 295.5 660.5 297.1 660.6 298.8 660.6 300.4 660.6 302.0 660.7 303.6 660.7 305.2 660.8 306.8 660.8 308.4 660.8 310.0 660.9 311.7 660.9 313.3 660.9 314.9 661.0 316.5 661.0 318.1 661.0 319.7 661.1 321.3 661.1 323.0 661.1 324.6 661.1 326.2 661.2 327.8 661.2 329.4 661.2 331.0 661.3 332.6 661.3 334.2 661.3 335.9 661.3 337.5 661.4 339.1 661.4 340.7 661.4 342.3 661.4 343.9 661.5 345.5 661.5 347.1 661.5 348.7 661.6 350.3 661.6 351.9 661.6 353.6 661.7 355.2 661.7 356.8 661.7 358.4 661.8 360.0 661.8 361.6 661.8 363.2 661.9 364.8 661.9 366.4 662.0 368.0 662.0 369.6 662.1 371.2 662.1 372.8 662.2 374.4 662.2 376.0 662.3 377.6 662.3 379.2 662.4 380.8 662.4 382.4 662.5 384.0 662.6 382.4 662.7 380.8 662.8 379.2 662.9 377.6 663.0 376.0 663.1 374.4 663.2 372.8 663.3 371.2 663.4 369.6 663.4 367.9 663.5 366.3 663.6 364.7 663.7 363.1 663.8 361.5 663.8 359.9 663.9 358.3 664.0 356.7 664.0 355.1 664.1 353.5 664.2 351.9 664.2 350.3 664.3 348.7 664.4 347.1 664.4 345.5 664.5 343.8 664.5 342.2 664.6 340.6 664.6 339.0 664.7 337.4 664.7 335.8 664.8 334.2 664.8 332.6 664.9 331.0 664.9 329.4 665.0 327.8 665.0 326.2 665.1 324.6 665.1 322.9 665.2 321.3 665.2 319.7 665.3 318.1 665.3 316.5 665.4 314.9 665.4 313.3 665.5 311.7 665.5 310.1 665.6 308.5 665.6 306.9 665.7 305.3 665.7 303.7 665.8 302.0 665.9 300.4 665.9 298.8 666.0 297.2 666.0 295.6 666.1 294.0 666.2 292.4 666.2 290.8 666.3 289.2 666.3 287.6 666.4 286.0 666.5 284.4 666.6 282.8 666.6 281.2 666.7 279.6 666.8 277.9 666.9 276.3 666.9 274.7 667.0 273.1 667.1 271.5 667.2 269.9 667.3 268.3 667.4 266.7 667.5 265.1 667.6 263.5 667.7 261.9 667.8 260.3 667.9 258.7 668.0 257.1 668.1 255.5 668.3 253.9 668.4 252.3 668.5 250.7 668.6 249.1 668.8 247.5 668.9 245.9 669.0 244.3 669.2 242.7 669.3 241.1 669.5 239.5 669.6 237.9 669.8 236.3 670.0 234.7 670.1 233.1 670.3 231.5 670.5 229.9 670.7 228.3 670.9 226.7 671.0 225.1 671.2 223.5 671.4 221.9 671.7 220.3 671.9 218.7 672.1 217.1 672.3 215.5 672.5 213.9 672.8 212.4 673.0 210.8 673.2 209.2 673.5 207.6 673.7 206.0 674.0 204.4 674.3 202.8 674.5 201.2 674.8 199.6 675.1 198.1 675.4 196.5 675.7 194.9 676.0 193.3 676.3 191.7 676.6 190.1 677.0 188.6 677.3 187.0 677.6 185.4 678.0 183.8 678.3 182.3 678.7 180.7 679.1 179.1 679.5 177.6 679.8 176.0 680.2 174.5 680.6 172.9 681.0 171.3 681.5 169.8 681.9 168.2 682.3 166.7 682.8 165.2 683.2 163.6 683.7 162.1 684.2 160.5 684.6 159.0 685.1 157.5 685.6 156.0 686.1 154.4 686.6 152.9 687.2 151.4 687.7 149.9 688.3 148.4 688.8 146.9 689.4 145.4 690.0 143.9 690.5 142.4 691.1 140.9 691.7 139.4 692.4 137.9 693.0 136.4 693.6 135.0 694.3 133.5 694.9 132.0 695.6 130.6 696.2 129.1 696.9 127.6 697.6 126.2 698.3 124.7 699.0 123.3 699.7 121.8 700.4 120.4 701.1 119.0 701.8 117.5 702.6 116.1 703.3 114.7 704.0 113.2 704.8 111.8 705.5 110.4 706.3 109.0 707.0 107.5 707.8 106.1 708.6 104.7 709.3 103.3 710.1 101.9 710.9 100.5 711.7 99.1 712.5 97.7 713.3 96.3 714.0 94.9 714.8 93.5 715.6 92.1 716.4 90.7 717.2 89.4 718.0 88.0 718.8 86.6 719.6 85.2 720.4 83.8 721.2 82.5 722.0 81.1 722.9 79.7 723.7 78.3 724.6 76.9 725.4 75.5 726.4 74.1 727.3 72.7 728.3 71.3 729.3 69.9 730.4 68.7 731.5 67.9 732.6 67.5 733.9 67.7 735.1 68.4 736.4 69.4 737.6 70.7 738.8 71.9 739.9 73.2 741.0 74.5 742.0 75.9 743.0 77.2 743.9 78.6 744.7 80.0 745.5 81.4 746.3 82.9 747.0 84.3 747.7 85.8 748.3 87.3 748.8 88.8 749.3 90.3 749.8 91.8 750.2 93.4 750.6 94.9 751.0 96.5 751.4 98.0 751.7 99.6 752.1 101.1 752.4 102.7 752.7 104.3 753.0 105.8 753.3 107.4 753.6 109.0 753.9 110.6 754.2 112.1 754.5 113.7 754.8 115.3 755.2 116.9 755.5 118.4 755.8 120.0 756.1 121.6 756.4 123.2 756.8 124.7 757.1 126.3 757.4 127.9 757.7 129.5 758.1 131.0 758.4 132.6 758.7 134.2 759.0 135.8 759.4 137.3 759.7 138.9 760.0 140.5 760.3 142.1 760.6 143.7 761.0 145.2 761.3 146.8 761.6 148.4 761.9 150.0 762.2 151.6 762.5 153.1 762.8 154.7 763.1 156.3 763.4 157.9 763.7 159.5 764.0 161.0 764.3 162.6 764.6 164.2 764.9 165.8 765.2 167.4 765.4 169.0 765.7 170.6 766.0 172.1 766.2 173.7 766.5 175.3 766.7 176.9 767.0 178.5 767.2 180.1 767.5 181.7 767.7 183.3 767.9 184.9 768.1 186.4 768.3 188.0 768.6 189.6 768.8 191.2 769.0 192.8 769.2 194.4 769.3 196.0 769.5 197.6 769.7 199.2 769.9 200.8 770.1 202.4 770.2 204.0 770.4 205.6 770.6 207.2 770.7 208.8 770.9 210.4 771.0 212.0 771.2 213.6 771.3 215.2 771.5 216.8 771.6 218.4 771.7 220.0 771.9 221.6 772.0 223.2 772.1 224.8 772.2 226.4 772.4 228.0 772.5 229.6 772.6 231.2 772.7 232.8 772.8 234.4 772.9 236.0 773.0 237.6 773.1 239.2 773.2 240.8 773.4 242.4 773.5 244.0 773.6 245.6 773.7 247.2 773.8 248.8 773.8 250.4 773.9 252.1 774.0 253.7 774.1 255.3 774.2 256.9 774.3 258.5 774.4 260.1 774.5 261.7 774.6 263.3 774.7 264.9 774.8 266.5 774.9 268.1 775.0 269.7 775.1 271.3 775.2 272.9 775.3 274.5 775.3 276.1 775.4 277.7 775.5 279.3 775.6 281.0 775.7 282.6 775.8 284.2 775.9 285.8 776.0 287.4 776.1 289.0 776.2 290.6 776.3 292.2 776.5 293.8 776.6 295.4 776.7 297.0 776.8 298.6 776.9 300.2 777.0 301.8 777.2 303.4 777.3 305.0 777.4 306.6 777.5 308.2 777.7 309.8 777.8 311.4 777.9 313.0 778.1 314.6 778.2 316.2 778.4 317.8 778.5 319.4 778.7 321.0 778.8 322.6 779.0 324.2 779.2 325.8 779.3 327.4 779.5 329.0 779.6 327.4 779.7 325.8 779.8 324.1 780.0 322.5 780.1 320.9 780.2 319.3 780.3 317.7 780.4 316.1 780.5 314.5 780.6 312.9 780.7 311.3 780.8 309.7 780.9 308.1 781.1 306.5 781.2 304.9 781.3 303.3 781.4 301.7 781.5 300.1 781.6 298.5 781.7 296.9 781.8 295.3 781.9 293.7 782.0 292.1 782.1 290.5 782.2 288.9 782.3 287.3 782.5 285.8 782.6 284.2 782.7 282.6 782.8 281.0 782.9 279.4 783.0 277.8 783.1 276.2 783.2 274.6 783.3 273.0 783.4 271.5 783.6 269.9 783.7 268.3 783.8 266.7 783.9 265.1 784.0 263.5 784.1 261.9 784.2 260.3 784.4 258.7 784.5 257.1 784.6 255.5 784.7 253.9 784.8 252.3 785.0 250.7 785.1 249.1 785.2 247.5 785.3 245.8 785.5 244.2 785.6 242.6 785.7 241.0 785.9 239.4 786.0 237.8 786.2 236.1 786.3 234.5 786.5 232.9 786.6 231.3 786.8 229.7 787.0 228.1 787.2 226.5 787.4 224.8 787.6 223.2 787.8 221.6 788.0 220.0 788.3 218.4 788.5 216.8 788.8 215.2 789.1 213.6 789.4 212.1 789.7 210.5 790.0 208.9 790.3 207.3 790.6 205.8 791.0 204.2 791.4 202.6 791.8 201.1 792.2 199.5 792.6 198.0 793.0 196.5 793.5 194.9 794.0 193.4 794.5 191.9 795.0 190.4 795.6 188.9 796.1 187.4 796.7 185.9 797.3 184.5 797.9 183.0 798.6 181.5 799.3 180.1 800.0 178.7 800.7 177.2 801.5 175.8 802.2 174.4 803.0 173.0 803.9 171.7 804.7 170.3 805.6 169.0 806.6 167.7 807.6 166.5 808.7 165.4 809.8 164.3 810.9 163.3 812.1 162.4 813.4 161.5 814.7 160.7 816.1 160.0 817.5 159.4 819.0 158.9 820.4 158.4 821.9 158.1 823.5 157.8 825.1 157.6 826.6 157.4 828.3 157.3 829.9 157.3 831.5 157.4 833.2 157.5 834.8 157.7 836.5 157.9 838.1 158.2 839.8 158.5 841.4 158.9 843.0 159.3 844.6 159.8 846.2 160.3 847.8 160.8 849.3 161.4 850.9 162.0 852.3 162.7 853.8 163.3 855.2 164.0 856.7 164.8 858.1 165.5 859.4 166.3 860.8 167.1 862.1 167.9 863.5 168.8 864.8 169.6 866.1 170.5 867.4 171.4 868.6 172.4 869.9 173.3 871.2 174.3 872.4 175.2 873.6 176.2 874.9 177.2 876.1 178.2 877.3 179.2 878.5 180.2 879.8 181.3 881.0 182.3 882.2 183.4 883.4 184.4 884.6 185.5 885.8 186.5 887.0 187.6 888.2 188.7 889.4 189.8 890.6 190.9 891.8 192.0 892.9 193.1 894.1 194.2 895.3 195.3 896.4 196.5 897.6 197.6 898.7 198.8 899.8 199.9 900.9 201.1 902.1 202.3 903.2 203.4 904.2 204.6 905.3 205.8 906.4 207.0 907.5 208.2 908.5 209.5 909.6 210.7 910.6 211.9 911.6 213.1 912.7 214.4 913.7 215.6 914.7 216.9 915.7 218.2 916.6 219.4 917.6 220.7 918.6 222.0 919.5 223.3 920.5 224.6 921.4 225.9 922.3 227.2 923.2 228.5 924.1 229.8 925.0 231.2 925.9 232.5 926.8 233.8 927.7 235.2 928.5 236.6 929.4 237.9 930.2 239.3 931.0 240.7 931.8 242.0 932.6 243.4 933.4 244.8 934.2 246.2 935.0 247.6 935.7 249.0 936.5 250.4 937.2 251.8 938.0 253.3 938.7 254.7 939.4 256.1 940.1 257.6 940.8 259.0 941.5 260.5 942.1 261.9 942.8 263.4 943.4 264.8 944.1 266.3 944.7 267.8 945.3 269.3 945.9 270.7 946.5 272.2 947.1 273.7 947.6 275.2 948.2 276.7 948.7 278.2 949.3 279.7 949.8 281.2 950.3 282.8 950.8 284.3 951.3 285.8 951.8 287.3 952.3 288.9 952.7 290.4 953.2 291.9 953.7 293.5 954.1 295.0 954.5 296.6 955.0 298.1 955.4 299.7 955.8 301.2 956.2 302.8 956.6 304.4 957.0 305.9 957.4 307.5 957.7 309.1 958.1 310.6 958.4 312.2 958.8 313.8 959.1 315.3 959.5 316.9 959.8 318.5 960.1 320.1 960.5 321.7 960.8 323.2 961.1 324.8 961.4 326.4 961.7 328.0 962.0 329.6 962.3 331.1 962.6 332.7 962.9 334.3 963.1 335.9 963.4 337.5 963.7 339.1 963.9 340.6 964.2 342.2 964.5 343.8 964.7 345.4 965.0 347.0 965.2 348.6 965.4 350.2 965.7 351.7 965.9 353.3 966.1 354.9 966.3 356.5 966.5 358.1 966.8 359.7 967.0 361.3 967.2 362.8 967.4 364.4 967.5 366.0 967.7 367.6 967.9 369.2 968.1 370.8 968.3 372.4 968.4 374.0 968.6 375.6 968.7 377.2 968.9 378.8 969.0 380.4 969.2 382.0 969.3 383.5 969.4 385.1 969.6 386.7 969.7 388.3 969.8 389.9 969.9 391.5 970.0 393.1 970.1 394.7 970.2 396.3 970.3 397.9 970.4 399.5 970.5 401.2 970.5 402.8 970.6 404.4 970.7 406.0 970.7 407.6 970.8 409.2 970.8 410.8 970.9 412.4 970.9 414.0 971.0 415.6 971.0 417.2 971.0 418.9 971.1 420.5 971.1 422.1 971.1 423.7 971.1 425.3 971.2 426.9 971.2 428.5 971.2 430.2 971.3 431.8 971.3 433.4 971.4 435.0 971.5 436.6 971.5 438.2 971.6 439.8 971.7 441.4 971.8 443.0 971.9 444.6 972.0 446.2 972.1 447.8 972.3 449.4 972.4 451.0 972.6 452.6 972.8 454.1 973.0 455.7 973.2 457.3 973.4 458.9 973.7 460.4 973.9 462.0 974.2 463.6 974.5 465.1 974.9 466.7 975.2 468.2 975.6 469.8 976.0 471.3 976.1 469.7 976.2 468.1 976.3 466.5 976.4 464.9 976.5 463.3 976.5 461.7 976.6 460.1 976.7 458.5 976.8 456.9 976.8 455.3 976.9 453.6 977.0 452.0 977.0 450.4 977.1 448.8 977.1 447.2 977.2 445.6 977.3 444.0 977.3 442.4 977.4 440.8 977.4 439.2 977.5 437.6 977.5 436.0 977.6 434.4 977.6 432.8 977.7 431.2 977.7 429.6 977.8 428.0 977.8 426.4 977.9 424.8 978.0 423.2 978.0 421.6 978.1 420.0 978.1 418.4 978.2 416.8 978.2 415.2 978.3 413.6 978.4 412.0 978.4 410.4 978.5 408.8 978.6 407.2 978.6 405.5 978.7 403.9 978.8 402.4 978.9 400.8 978.9 399.2 979.0 397.6 979.1 396.0 979.2 394.4 979.3 392.8 979.4 391.2 979.5 389.6 979.6 388.0 979.7 386.4 979.8 384.8 979.9 383.2 980.1 381.6 980.2 380.0 980.3 378.4 980.5 376.8 980.6 375.2 980.8 373.6 980.9 372.0 981.1 370.4 981.2 368.8 981.4 367.3 981.6 365.7 981.8 364.1 982.0 362.5 982.2 360.9 982.4 359.3 982.6 357.7 982.8 356.1 983.0 354.6 983.2 353.0 983.5 351.4 983.7 349.8 984.0 348.2 984.3 346.6 984.5 345.1 984.8 343.5 985.1 341.9 985.4 340.3 985.7 338.7 986.0 337.2 986.3 335.6 986.7 334.0 987.0 332.4 987.4 330.8 987.7 329.3 988.1 327.7 988.5 326.1 988.9 324.6 989.3 323.0 989.7 321.4 990.1 319.9 990.5 318.3 991.0 316.7 991.4 315.2 991.9 313.6 992.4 312.1 992.9 310.5 993.4 309.0 993.9 307.5 994.5 305.9 995.0 304.4 995.6 302.9 996.1 301.4 996.7 299.9 997.3 298.4 998.0 296.9 998.6 295.4 999.2 294.0 999.9 292.5 1000.6 291.1 1001.3 289.6 1002.0 288.2 1002.7 286.8 1003.4 285.3 1004.2 283.9 1005.0 282.5 1005.8 281.2 1006.6 279.8 1007.4 278.4 1008.3 277.1 1009.1 275.8 1010.0 274.4 1010.9 273.1 1011.8 271.8 1012.8 270.5 1013.7 269.3 1014.7 268.0 1015.7 266.8 1016.7 265.5 1017.7 264.3 1018.8 263.1 1019.9 262.0 1021.0 260.8 1022.1 259.7 1023.2 258.5 1024.3 257.4 1025.5 256.3 1026.7 255.2 1027.9 254.2 1029.1 253.1 1030.3 252.1 1031.5 251.1 1032.8 250.1 1034.1 249.2 1035.3 248.2 1036.6 247.3 1038.0 246.4 1039.3 245.5 1040.6 244.7 1042.0 243.8 1043.4 243.0 1044.8 242.2 1046.1 241.4 1047.6 240.7 1049.0 239.9 1050.4 239.2 1051.9 238.5 1053.3 237.8 1054.8 237.2 1056.2 236.5 1057.7 235.9 1059.2 235.2 1060.7 234.6 1062.2 234.0 1063.7 233.5 1065.2 232.9 1066.7 232.3 1068.2 231.8 1069.7 231.3 1071.2 230.8 1072.8 230.2 1074.3 229.8 1075.8 229.3 1077.3 228.8 1078.9 228.3 1080.4 227.9 1081.9 227.4 1083.5 227.0 1085.0 226.6 1086.6 226.2 1088.1 225.8 1089.7 225.4 1091.2 225.0 1092.8 224.7 1094.3 224.3 1095.9 224.0 1097.4 223.6 1099.0 223.3 1100.6 223.0 1102.1 222.7 1103.7 222.4 1105.3 222.1 1106.8 221.8 1108.4 221.5 1110.0 221.3 1111.6 221.0 1113.2 220.8 1114.7 220.5 1116.3 220.3 1117.9 220.1 1119.5 219.9 1121.1 219.7 1122.7 219.5 1124.2 219.3 1125.8 219.1 1127.4 218.9 1129.0 218.8 1130.6 218.6 1132.2 218.5 1133.8 218.3 1135.4 218.2 1137.0 218.1 1138.6 217.9 1140.2 217.8 1141.8 217.7 1143.4 217.6 1145.0 217.6 1146.6 217.5 1148.2 217.4 1149.8 217.3 1151.4 217.3 1153.0 217.2 1154.7 217.2 1156.3 217.1 1157.9 217.1 1159.5 217.0 1161.1 217.0 1162.7 217.0 1164.3 217.0 1165.9 217.0 1167.5 217.0 1169.2 217.0 1170.8 217.0 1172.4 217.0 1174.0 217.0 1175.6 217.0 1177.2 217.1 1178.8 217.1 1180.5 217.1 1182.1 217.2 1183.7 217.2 1185.3 217.3 1186.9 217.3 1188.5 217.4 1190.1 217.4 1191.7 217.5 1193.4 217.6 1195.0 217.6 1196.6 217.7 1198.2 217.8 1199.8 217.9 1201.4 218.0 1203.0 218.1 1204.6 218.2 1206.2 218.3 1207.9 218.4 1209.5 218.5 1211.1 218.6 1212.7 218.7 1214.3 218.8 1215.9 218.9 1217.5 219.0 1219.1 219.2 1220.7 219.3 1222.3 219.4 1223.9 219.6 1225.5 219.7 1227.1 219.8 1228.7 220.0 1230.3 220.1 1231.9 220.3 1233.5 220.4 1235.1 220.6 1236.7 220.7 1238.3 220.9 1239.9 221.1 1241.5 221.2 1243.1 221.4 1244.7 221.6 1246.3 221.8 1247.9 222.0 1249.4 222.2 1251.0 222.3 1252.6 222.5 1254.2 222.7 1255.8 222.9 1257.4 223.2 1259.0 223.4 1260.6 223.6 1262.1 223.8 1263.7 224.0 1265.3 224.3 1266.9 224.5 1268.5 224.7 1270.0 225.0 1271.6 225.2 1273.2 225.5 1274.8 225.7 1276.4 226.0 1277.9 226.2 1279.5 226.5 1281.1 226.8 1282.7 227.0 1284.2 227.3 1285.8 227.6 1287.4 227.9 1288.9 228.2 1290.5 228.5 1292.1 228.8 1293.6 229.1 1295.2 229.4 1296.8 229.7 1298.3 230.0 1299.9 230.4 1301.5 230.7 1303.0 231.0 1304.6 231.4 1306.1 231.7 1307.7 232.0 1309.3 232.4 1310.8 232.8 1312.4 233.1 1313.9 233.5 1315.5 233.9 1317.0 234.2 1318.6 234.6 1320.1 235.0 1321.7 235.4 1323.2 235.8 1324.8 236.2 1326.3 236.6 1327.9 237.0 1329.4 237.4 1331.0 237.9 1332.5 238.3 1334.1 238.7 1335.6 239.2 1337.1 239.6 1338.7 240.1 1340.2 240.5 1341.8 241.0 1343.3 241.5 1344.8 241.9 1346.4 242.4 1347.9 242.9 1349.4 243.4 1351.0 243.9 1352.5 244.4 1354.0 244.9 1355.5 245.4 1357.1 245.9 1358.6 246.5 1360.1 247.0 1361.6 247.5 1363.1 248.1 1364.7 248.6 1366.2 249.2 1367.7 249.7 1369.2 250.3 1370.7 250.9 1372.2 251.5 1373.7 252.1 1375.2 252.7 1376.7 253.3 1378.2 253.9 1379.7 254.5 1381.2 255.1 1382.6 255.7 1384.1 256.4 1385.6 257.0 1387.1 257.7 1388.5 258.3 1390.0 259.0 1391.5 259.7 1392.9 260.3 1394.4 261.0 1395.8 261.7 1397.3 262.4 1398.7 263.1 1400.1 263.8 1401.6 264.6 1403.0 265.3 1404.4 266.0 1405.8 266.8 1407.2 267.5 1408.6 268.3 1410.0 269.1 1411.4 269.9 1412.8 270.6 1414.2 271.4 1415.6 272.2 1417.0 273.1 1418.3 273.9 1419.7 274.7 1421.0 275.5 1422.4 276.4 1423.7 277.2 1425.1 278.1 1426.4 279.0 1427.8 279.8 1429.1 280.7 1430.4 281.6 1431.7 282.5 1433.1 283.4 1434.4 284.3 1435.7 285.2 1437.0 286.2 1438.3 287.1 1439.6 288.0 1440.9 289.0 1442.1 289.9 1443.4 290.9 1444.7 291.9 1446.0 292.8 1447.3 293.8 1448.5 294.8 1449.8 295.8 1451.1 296.8 1452.3 297.8 1453.6 298.8 1454.8 299.9 1456.1 300.9 1457.3 301.9 1458.5 303.0 1459.8 304.0 1461.0 305.1 1462.2 306.2 1463.4 307.2 1464.6 308.3 1465.8 309.4 1467.0 310.5 1468.2 311.6 1469.4 312.7 1470.5 313.8 1471.7 315.0 1472.8 316.1 1473.9 317.3 1475.1 318.4 1476.2 319.6 1477.3 320.7 1478.4 321.9 1479.4 323.1 1480.5 324.3 1481.6 325.5 1482.6 326.7 1483.6 327.9 1484.7 329.2 1485.7 330.4 1486.7 331.6 1487.7 332.9 1488.7 334.1 1489.7 335.4 1490.6 336.7 1491.6 337.9 1492.5 339.2 1493.5 340.5 1494.4 341.8 1495.3 343.1 1496.2 344.4 1497.1 345.7 1498.0 347.1 1498.9 348.4 1499.7 349.7 1500.6 351.1 1501.4 352.4 1502.3 353.8 1503.1 355.1 1503.9 356.5 1504.8 357.9 1505.6 359.2 1506.4 360.6 1507.1 362.0 1507.9 363.4 1508.7 364.8 1509.5 366.2 1510.2 367.6 1510.9 369.0 1511.7 370.4 1512.4 371.9 1513.1 373.3 1513.8 374.7 1514.5 376.2 1515.2 377.6 1515.9 379.1 1516.6 380.5 1517.3 382.0 1517.9 383.4 1518.6 384.9 1519.2 386.3 1519.9 387.8 1520.5 389.3 1521.1 390.8 1521.7 392.3 1522.3 393.7 1522.9 395.2 1523.5 396.7 1524.1 398.2 1524.7 399.7 1525.3 401.2 1525.8 402.7 1526.4 404.2 1526.9 405.8 1527.5 407.3 1528.0 408.8 1528.5 410.3 1529.1 411.8 1529.6 413.4 1530.1 414.9 1530.6 416.4 1531.1 417.9 1531.6 419.5 1532.0 421.0 1532.5 422.6 1533.0 424.1 1533.4 425.6 1533.9 427.2 1534.4 428.7 1534.8 430.3 1535.2 431.8 1535.7 433.4 1536.1 434.9 1536.5 436.5 1536.9 438.0 1537.3 439.6 1537.7 441.1 1538.1 442.7 1538.5 444.2 1538.9 445.8 1539.3 447.4 1539.7 448.9 1540.0 450.5 1540.4 452.0 1540.7 453.6 1541.1 455.2 1541.4 456.7 1541.8 458.3 1542.1 459.9 1542.5 461.4 1542.8 463.0 1543.1 464.6 1543.4 466.1 1543.7 467.7 1544.0 469.3 1544.3 470.9 1544.6 472.4 1544.9 474.0 1545.2 475.6 1545.5 477.2 1545.8 478.7 1546.0 480.3 1546.3 481.9 1546.6 483.5 1546.8 485.0 1547.1 486.6 1547.3 488.2 1547.6 489.8 1547.8 491.4 1548.1 493.0 1548.3 494.5 1548.5 496.1 1548.8 497.7 1549.0 499.3 1549.2 500.9 1549.4 502.5 1549.6 504.1 1549.8 505.6 1550.0 507.2 1550.2 508.8 1550.4 510.4 1550.6 512.0 1550.8 513.6 1551.0 515.2 1551.2 516.8 1551.4 518.4 1551.5 520.0 1551.7 521.5 1551.9 523.1 1552.1 524.7 1552.2 526.3 1552.4 527.9 1552.5 529.5 1552.7 531.1 1552.8 532.7 1553.0 534.3 1553.1 535.9 1553.3 537.5 1553.4 539.1 1553.5 540.7 1553.7 542.3 1553.8 543.9 1553.9 545.5 1554.1 547.1 1554.2 548.7 1554.3 550.3 1554.4 551.9 1554.5 553.5 1554.7 555.1 1554.8 556.7 1554.9 558.3 1555.0 559.9 1555.1 561.5 1555.2 563.1 1555.3 564.7 1555.4 566.3 1555.5 567.9 1555.6 569.5 1555.7 571.1 1555.8 572.7 1555.9 574.3 1556.0 576.0 1556.0 577.6 1556.1 579.2 1556.2 580.8 1556.3 582.4 1556.4 584.0 1556.5 585.6 1556.5 587.2 1556.6 588.8 1556.7 590.4 1556.8 592.0 1556.8 593.6 1556.9 595.2 1557.0 596.8 1557.1 598.4 1557.1 600.0 1557.2 601.7 1557.3 603.3 1557.3 604.9 1557.4 606.5 1557.5 608.1 1557.5 609.7 1557.6 611.3 1557.7 612.9 1557.7 614.5 1557.8 616.1 1557.8 617.7 1557.9 619.3 1558.0 620.9 1558.0 622.5 1558.1 624.1 1558.1 625.8 1558.2 627.4 1558.3 629.0 1558.3 630.6 1558.4 632.2 1558.5 633.8 1558.5 635.4 1558.6 637.0 1558.6 638.6 1558.7 640.2 1558.8 641.8 1558.8 643.4 1558.9 645.0 1558.9 646.6 1559.0 648.2 1559.1 649.8 1559.1 651.4 1559.2 653.0 1559.3 654.6 1559.3 656.2 1559.4 657.9 1559.5 659.5 1559.5 661.1 1559.6 662.7 1559.7 664.3 1559.8 665.9 1559.8 667.5 1559.9 669.1 1560.0 670.7 1560.1 672.3 1560.1 673.9 1560.2 675.5 1560.3 677.1 1560.4 678.7 1560.5 680.3 1560.6 681.9 1560.6 683.4 1560.7 685.0 1560.8 686.6 1560.9 688.2 1561.0 689.8 1561.1 691.4 1561.2 693.0 1561.3 694.6 1561.4 696.2 1561.5 697.8 1561.6 696.1 1561.8 694.4 1561.9 692.8 1562.0 691.2 1562.2 689.6 1562.3 688.0 1562.5 686.4 1562.6 684.8 1562.7 683.2 1562.9 681.7 1563.0 680.1 1563.1 678.6 1563.3 677.0 1563.4 675.4 1563.5 673.8 1563.7 672.3 1563.8 670.6 1563.9 669.0 1564.1 667.4 1564.2 665.7 1564.3 664.0 1564.5 662.3 1564.6 660.5 1564.8 658.7 1564.9 656.8 1565.0 654.9 1565.2 653.0 1565.3 651.3 1565.5 649.7 1565.6 648.6 1565.7 647.9 1565.8 647.7 1565.9 648.2 1566.0 649.2 1566.1 650.6 1566.2 652.3 1566.3 654.1 1566.3 656.1 1566.4 658.0 1566.5 659.9 1566.6 661.7 1566.7 663.5 1566.7 665.2 1566.8 666.9 1566.9 668.6 1567.0 670.2 1567.1 671.7 1567.2 673.3 1567.3 674.8 1567.3 676.3 1567.4 677.9 1567.5 679.4 1567.6 681.0 1567.7 682.7 1567.8 684.3 1567.9 685.9 1567.9 687.6 1568.0 689.2 1568.1 690.8 1568.2 692.5 1568.3 694.1 1568.4 695.7 1568.4 697.3 1568.5 698.9 1568.6 700.6 1568.7 702.2 1568.8 703.8 1568.8 705.4 1568.9 707.0 1569.0 708.6 1569.1 710.3 1569.1 711.9 1569.2 713.5 1569.2 715.1 1569.3 716.7 1569.4 718.3 1569.4 719.9 1569.5 721.6 1569.5 723.2 1569.6 724.8 1569.6 726.4 1569.7 728.0 1569.7 729.7 1569.8 731.3 1569.8 732.9 1569.9 734.5 1569.9 736.1 1570.0 737.7 1570.0 739.4 1570.1 741.0 1570.1 742.6 1570.1 744.2 1570.2 745.8 1570.2 747.4 1570.2 749.1 1570.3 750.7 1570.3 752.3 1570.3 753.9 1570.4 755.5 1570.4 757.2 1570.4 758.8 1570.4 760.4 1570.5 762.0 1570.5 763.6 1570.5 765.3 1570.5 766.9 1570.6 768.5 1570.6 770.1 1570.6 771.7 1570.6 773.3 1570.6 775.0 1570.7 776.6 1570.7 778.2 1570.7 779.8 1570.7 781.4 1570.7 783.1 1570.7 784.7 1570.7 786.3 1570.7 787.9 1570.8 789.5 1570.8 791.1 1570.8 792.8 1570.8 794.4 1570.8 796.0 1570.8 794.4 1570.9 792.8 1570.9 791.2 1570.9 789.6 1570.9 788.0 1571.0 786.4 1571.0 784.8 1571.0 783.2 1571.0 781.6 1571.1 780.0 1571.1 778.4 1571.1 776.8 1571.1 775.2 1571.2 773.6 1571.2 772.0 1571.2 770.4 1571.2 768.8 1571.2 767.2 1571.3 765.6 1571.3 764.0 1571.3 762.4 1571.3 760.7 1571.3 759.1 1571.4 757.5 1571.4 755.9 1571.4 754.3 1571.4 752.7 1571.4 751.1 1571.5 749.5 1571.5 747.9 1571.5 746.3 1571.5 744.7 1571.5 743.1 1571.6 741.5 1571.6 739.9 1571.6 738.3 1571.6 736.7 1571.6 735.1 1571.6 733.5 1571.7 731.9 1571.7 730.3 1571.7 728.7 1571.7 727.1 1571.7 725.5 1571.8 723.9 1571.8 722.3 1571.8 720.7 1571.8 719.1 1571.8 717.5 1571.8 715.9 1571.9 714.3 1571.9 712.7 1571.9 711.1 1571.9 709.5 1571.9 707.9 1572.0 706.3 1572.0 704.7 1572.0 703.0 1572.0 701.4 1572.0 699.8 1572.1 698.2 1572.1 696.6 1572.1 695.0 1572.1 693.4 1572.2 691.8 1572.2 690.2 1572.2 688.6 1572.2 687.0 1572.3 685.4 1572.3 683.8 1572.3 682.2 1572.3 680.6 1572.4 679.0 1572.4 677.4 1572.4 675.8 1572.4 674.2 1572.5 672.6 1572.5 671.0 1572.5 669.4 1572.6 667.8 1572.6 666.2 1572.6 664.6 1572.6 663.0 1572.7 661.4 1572.7 659.8 1572.7 658.2 1572.8 656.6 1572.8 655.0 1572.8 653.4 1572.9 651.8 1572.9 650.2 1573.0 648.6 1573.0 647.0 1573.0 645.4 1573.1 643.8 1573.1 642.2 1573.2 640.6 1573.2 639.0 1573.2 637.4 1573.3 635.8 1573.3 634.2 1573.4 632.6 1573.4 631.0 1573.5 629.4 1573.5 627.7 1573.6 626.1 1573.6 624.5 1573.7 622.9 1573.7 621.3 1573.8 619.7 1573.8 618.1 1573.9 616.5 1574.0 614.9 1574.0 613.3 1574.1 611.7 1574.1 610.1 1574.2 608.5 1574.3 606.9 1574.3 605.3 1574.4 603.7 1574.4 602.1 1574.5 600.5 1574.6 598.9 1574.7 597.3 1574.7 595.7 1574.8 594.1 1574.9 592.5 1574.9 590.9 1575.0 589.3 1575.1 587.7 1575.2 586.1 1575.3 584.5 1575.3 582.9 1575.4 581.3 1575.5 579.7 1575.6 578.1 1575.7 576.5 1575.8 574.9 1575.8 573.3 1575.9 571.7 1576.0 570.1 1576.1 568.5 1576.2 566.9 1576.3 565.3 1576.4 563.8 1576.5 562.2 1576.6 560.6 1576.7 559.0 1576.8 557.4 1576.9 555.8 1577.0 554.2 1577.1 552.6 1577.3 551.0 1577.4 549.4 1577.5 547.8 1577.6 546.2 1577.7 544.6 1577.8 543.0 1578.0 541.4 1578.1 539.8 1578.2 538.2 1578.3 536.6 1578.5 535.0 1578.6 533.4 1578.7 531.8 1578.9 530.2 1579.0 528.6 1579.1 527.0 1579.3 525.4 1579.4 523.8 1579.6 522.2 1579.7 520.6 1579.8 519.0 1580.0 517.4 1580.1 515.8 1580.3 514.2 1580.4 512.6 1580.6 511.1 1580.8 509.5 1580.9 507.9 1581.1 506.3 1581.3 504.7 1581.4 503.1 1581.6 501.5 1581.8 499.9 1581.9 498.3 1582.1 496.7 1582.3 495.1 1582.5 493.5 1582.6 491.9 1582.8 490.3 1583.0 488.7 1583.2 487.1 1583.4 485.5 1583.6 484.0 1583.8 482.4 1584.0 480.8 1584.2 479.2 1584.4 477.6 1584.6 476.0 1584.8 474.4 1585.0 472.8 1585.2 471.2 1585.4 469.6 1585.6 468.0 1585.9 466.4 1586.1 464.9 1586.3 463.3 1586.5 461.7 1586.8 460.1 1587.0 458.5 1587.2 456.9 1587.5 455.3 1587.7 453.7 1587.9 452.2 1588.2 450.6 1588.4 449.0 1588.7 447.4 1588.9 445.8 1589.2 444.2 1589.5 442.6 1589.7 441.1 1590.0 439.5 1590.2 437.9 1590.5 436.3 1590.8 434.7 1591.1 433.2 1591.3 431.6 1591.6 430.0 1591.9 428.4 1592.2 426.8 1592.5 425.3 1592.8 423.7 1593.1 422.1 1593.4 420.5 1593.7 419.0 1594.0 417.4 1594.3 415.8 1594.6 414.2 1594.9 412.7 1595.2 411.1 1595.6 409.5 1595.9 408.0 1596.2 406.4 1596.5 404.8 1596.9 403.3 1597.2 401.7 1597.5 400.1 1597.9 398.6 1598.2 397.0 1598.6 395.4 1598.9 393.9 1599.3 392.3 1599.7 390.8 1600.0 389.2 1600.4 387.6 1600.8 386.1 1601.1 384.5 1601.5 383.0 1601.9 381.4 1602.3 379.9 1602.7 378.3 1603.0 376.8 1603.4 375.2 1603.8 373.7 1604.2 372.1 1604.6 370.6 1605.1 369.0 1605.5 367.5 1605.9 365.9 1606.3 364.4 1606.7 362.8 1607.2 361.3 1607.6 359.7 1608.0 358.2 1608.5 356.7 1608.9 355.1 1609.3 353.6 1609.8 352.1 1610.2 350.5 1610.7 349.0 1611.2 347.5 1611.6 345.9 1612.1 344.4 1612.5 342.9 1613.0 341.3 1613.5 339.8 1614.0 338.3 1614.4 336.8 1614.9 335.2 1615.4 333.7 1615.9 332.2 1616.4 330.7 1616.9 329.1 1617.4 327.6 1617.9 326.1 1618.4 324.6 1618.9 323.1 1619.4 321.5 1619.9 320.0 1620.4 318.5 1621.0 317.0 1621.5 315.5 1622.0 314.0 1622.5 312.4 1623.0 310.9 1623.6 309.4 1624.1 307.9 1624.6 306.4 1625.2 304.9 1625.7 303.4 1626.3 301.9 1626.8 300.4 1627.3 298.9 1627.9 297.4 1628.4 295.9 1629.0 294.3 1629.5 292.8 1630.1 291.3 1630.7 289.8 1631.2 288.3 1631.8 286.8 1632.3 285.3 1632.9 283.8 1633.5 282.3 1634.0 280.8 1634.6 279.3 1635.2 277.8 1635.8 276.3 1636.3 274.8 1636.9 273.4 1637.5 271.9 1638.1 270.4 1638.7 268.9 1639.3 267.4 1639.8 265.9 1640.4 264.4 1641.0 262.9 1641.6 261.4 1642.2 259.9 1642.8 258.4 1643.4 256.9 1644.0 255.4 1644.6 254.0 1645.2 252.5 1645.8 251.0 1646.4 249.5 1647.0 248.0 1647.6 246.5 1648.2 245.0 1648.8 243.5 1649.4 242.1 1650.0 240.6 1650.6 239.1 1651.2 237.6 1651.8 236.1 1652.4 234.6 1653.0 233.2 1653.7 231.7 1654.3 230.2 1654.9 228.7 1655.5 227.2 1656.1 225.7 1656.7 224.3 1657.3 222.8 1657.9 221.3 1658.6 219.8 1659.2 218.3 1659.8 216.8 1660.4 215.4 1661.0 213.9 1661.6 212.4 1662.2 210.9 1662.8 209.4 1663.5 208.0 1664.1 206.5 1664.7 205.0 1665.3 203.5 1665.9 202.0 1666.5 200.5 1667.1 199.1 1667.7 197.6 1668.3 196.1 1668.9 194.6 1669.5 193.1 1670.1 191.6 1670.7 190.2 1671.3 188.7 1671.9 187.2 1672.5 185.7 1673.1 184.2 1673.7 182.7 1674.3 181.2 1674.9 179.8 1675.5 178.3 1676.1 176.8 1676.7 175.3 1677.2 173.8 1677.8 172.3 1678.4 170.8 1679.0 169.3 1679.5 167.8 1680.1 166.3 1680.7 164.8 1681.2 163.3 1681.8 161.8 1682.4 160.3 1682.9 158.8 1683.5 157.3 1684.0 155.8 1684.6 154.3 1685.1 152.8 1685.7 151.3 1686.2 149.8 1686.7 148.3 1687.3 146.8 1687.8 145.3 1688.3 143.8 1688.9 142.3 1689.4 140.8 1689.9 139.3 1690.4 137.8 1690.9 136.2 1691.4 134.7 1691.9 133.2 1692.4 131.7 1692.9 130.2 1693.4 128.6 1693.9 127.1 1694.4 125.6 1694.8 124.1 1695.3 122.5 1695.8 121.0 1696.3 119.5 1696.7 117.9 1697.2 116.4 1697.6 114.9 1698.1 113.3 1698.5 111.8 1698.9 110.3 1699.4 108.7 1699.8 107.2 1700.2 105.6 1700.6 104.1 1701.0 102.5 1701.4 101.0 1701.9 99.4 1702.3 97.9 1702.7 96.3 1703.1 94.8 1703.6 93.2 1704.1 91.7 1704.5 90.1 1705.0 88.6 1705.5 87.0 1706.1 85.4 1706.6 83.9 1707.2 82.3 1707.9 80.8 1708.5 79.2 1709.2 77.7 1710.0 76.2 1710.7 74.6 1711.5 73.2 1712.4 71.8 1713.2 70.6 1714.1 69.4 1715.1 68.5 1716.0 67.8 1717.0 67.3 1718.0 67.0 1719.1 67.1 1720.2 67.4 1721.2 68.0 1722.3 68.8 1723.4 69.9 1724.5 71.1 1725.5 72.4 1726.6 73.8 1727.5 75.3 1728.5 76.8 1729.4 78.3 1730.2 79.8 1731.0 81.2 1731.8 82.7 1732.6 84.1 1733.4 85.5 1734.2 86.9 1735.0 88.3 1735.9 89.6 1736.9 90.9 1737.9 92.2 1738.9 93.5 1740.0 94.7 1741.1 95.9 1742.2 97.0 1743.4 98.2 1744.6 99.3 1745.8 100.4 1747.1 101.4 1748.4 102.5 1749.7 103.5 1751.0 104.5 1752.3 105.4 1753.6 106.4 1755.0 107.3 1756.3 108.2 1757.7 109.1 1759.1 109.9 1760.4 110.7 1761.8 111.6 1763.2 112.3 1764.6 113.1 1766.0 113.9 1767.4 114.6 1768.8 115.3 1770.3 116.0 1771.7 116.6 1773.1 117.3 1774.6 117.9 1776.0 118.5 1777.5 119.1 1779.0 119.7 1780.5 120.2 1781.9 120.8 1783.4 121.3 1784.9 121.8 1786.4 122.3 1787.9 122.7 1789.4 123.2 1790.9 123.6 1792.5 124.0 1794.0 124.4 1795.5 124.8 1797.0 125.2 1798.6 125.6 1800.1 125.9 1801.7 126.2 1803.2 126.5 1804.8 126.8 1806.3 127.1 1807.9 127.4 1809.5 127.7 1811.0 127.9 1812.6 128.2 1814.2 128.4 1815.8 128.6 1817.4 128.8 1819.0 129.0 1820.5 129.2 1822.1 129.4 1823.7 129.5 1825.3 129.7 1826.9 129.8 1828.5 129.9 1830.1 130.1 1831.8 130.2 1833.4 130.3 1835.0 130.4 1836.6 130.5 1838.2 130.5 1839.8 130.6 1841.4 130.7 1843.1 130.7 1844.7 130.8 1846.3 130.8 1847.9 130.9 1849.5 130.9 1851.1 130.9 1852.8 130.9 1854.4 131.0 1856.0 131.0 1857.6 131.0 1859.2 131.0 1860.9 131.0 1862.5 131.0 1864.1 131.0 1865.7 131.0 1867.3 130.9 1869.0 130.9 1870.6 130.9 1872.2 130.9 1873.8 130.9 1875.4 130.8 1877.0 130.8 1878.6 130.8 1880.2 130.7 1881.8 130.7 1883.4 130.7 1885.0 130.6 1886.7 130.6 1888.3 130.5 1889.9 130.5 1891.5 130.5 1893.1 130.4 1894.7 130.4 1896.3 130.3 1897.8 130.2 1899.4 130.2 1901.0 130.1 1902.6 130.1 1904.2 130.0 1905.8 129.9 1907.4 129.9 1909.0 129.8 1910.6 129.7 1912.2 129.7 1913.8 129.6 1915.4 129.5 1917.0 129.4 1918.6 129.4 1920.1 129.3 1921.7 129.2 1923.3 129.1 1924.9 129.0 1926.5 129.0 1928.1 128.9 1929.7 128.8 1931.3 128.7 1932.9 128.6 1934.5 128.5 1936.0 128.4 1937.6 128.3 1939.2 128.2 1940.8 128.1 1942.4 128.0 1944.0 127.9 1945.6 127.8 1947.2 127.7 1948.8 127.6 1950.4 127.5 1952.0 127.4 1953.5 127.3 1955.1 127.2 1956.7 127.0 1958.3 126.9 1959.9 126.8 1961.5 126.7 1963.1 126.6 1964.7 126.5 1966.3 126.4 1967.9 126.2 1969.5 126.1 1971.1 126.0 1972.7 125.9 1974.3 125.7 1975.9 125.6 1977.5 125.5 1979.1 125.4 1980.7 125.2 1982.3 125.1 1983.9 125.0 1985.6 124.8 1987.2 124.7 1988.8 124.6 1990.4 124.4 1992.0 124.3"/>
<path stroke="#00f" d="M314.0 105.4L315.7 105.6 317.4 105.9 319.0 106.3 320.6 106.6 322.2 107.1 323.8 107.5 325.4 108.0 326.9 108.6 328.4 109.2 329.9 109.8 331.4 110.4 332.8 111.1 334.2 111.9 335.6 112.6 337.0 113.4 338.3 114.3 339.6 115.2 340.9 116.1 342.2 117.0 343.4 118.0 344.6 119.0 345.8 120.0 347.0 121.1 348.1 122.2 349.2 123.3 350.3 124.4 351.4 125.6 352.4 126.8 353.4 128.0 354.4 129.3 355.4 130.5 356.4 131.8 357.3 133.1 358.2 134.4 359.1 135.8 359.9 137.1 360.8 138.5 361.6 139.9 362.4 141.3 363.2 142.7 364.0 144.1 364.7 145.5 365.4 147.0 366.2 148.4 366.9 149.8 367.5 151.3 368.2 152.8 368.8 154.3 369.5 155.7 370.1 157.2 370.7 158.7 371.3 160.2 371.8 161.7 372.4 163.3 372.9 164.8 373.4 166.3 373.9 167.8 374.4 169.4 374.9 170.9 375.4 172.5 375.8 174.0 376.3 175.6 376.7 177.1 377.1 178.7 377.5 180.3 377.9 181.9 378.3 183.4 378.6 185.0 379.0 186.6 379.3 188.2 379.7 189.8 380.0 191.4 380.3 192.9 380.6 194.5 380.9 196.1 381.2 197.7 381.5 199.3 381.8 200.9 382.0 202.5 382.3 204.1 382.5 205.7 382.8 207.3 383.0 208.9 383.2 210.5 383.4 212.1 383.6 213.7 383.8 215.3 384.0 216.9 384.2 218.5 384.4 220.1 384.6 221.7 384.7 223.3 384.9 224.9 385.1 226.5 385.2 228.1 385.4 229.7 385.5 231.3 385.6 232.9 385.8 234.5 385.9 236.1 386.0 237.7 386.2 239.3 386.3 240.9 386.4 242.5 386.5 244.1 386.6 245.7 386.7 247.3 386.8 248.9 386.9 250.5 387.0 252.1 387.1 253.7 387.2 255.3 387.3 256.9 387.4 258.5 387.5 260.1 387.6 261.7 387.7 263.3 387.7 264.9 387.8 266.5 387.9 268.2 388.0 269.8 388.1 271.4 388.2 273.0 388.3 274.6 388.4 276.2 388.4 277.8 388.5 279.4 388.6 281.0 388.7 282.6 388.8 284.2 388.9 285.8 389.0 287.4 389.1 289.0 389.2 290.7 389.3 292.3 389.4 293.9 389.5 295.5 389.6 297.1 389.8 298.7 389.9 300.3 390.0 301.9 390.1 303.5 390.3 305.1 390.4 306.7 390.5 308.3 390.7 310.0 390.8 311.6 391.0 313.2 391.2 314.8 391.3 316.4 391.5 318.0 391.6 316.4 391.7 314.8 391.9 313.2 392.0 311.6 392.1 310.0 392.2 308.4 392.3 306.8 392.4 305.2 392.5 303.6 392.6 302.0 392.7 300.4 392.8 298.8 392.9 297.2 392.9 295.6 393.0 294.0 393.1 292.4 393.2 290.7 393.3 289.1 393.4 287.5 393.5 285.9 393.5 284.3 393.6 282.7 393.7 281.1 393.8 279.5 393.9 277.9 394.0 276.3 394.0 274.7 394.1 273.1 394.2 271.5 394.3 269.9 394.4 268.3 394.4 266.7 394.5 265.1 394.6 263.5 394.7 261.9 394.8 260.3 394.9 258.6 395.0 257.0 395.1 255.4 395.1 253.8 395.2 252.2 395.3 250.6 395.4 249.0 395.5 247.4 395.6 245.8 395.7 244.2 395.9 242.6 396.0 241.0 396.1 239.4 396.2 237.8 396.3 236.2 396.4 234.6 396.6 233.0 396.7 231.4 396.8 229.8 397.0 228.2 397.1 226.6 397.2 225.0 397.4 223.4 397.5 221.8 397.7 220.2 397.9 218.6 398.0 217.0 398.2 215.4 398.4 213.8 398.5 212.2 398.7 210.6 398.9 209.0 399.1 207.4 399.3 205.8 399.5 204.2 399.7 202.6 399.9 201.0 400.2 199.5 400.4 197.9 400.6 196.3 400.9 194.7 401.1 193.1 401.4 191.5 401.6 189.9 401.9 188.3 402.2 186.7 402.5 185.2 402.8 183.6 403.1 182.0 403.4 180.4 403.7 178.8 404.1 177.3 404.4 175.7 404.8 174.1 405.1 172.6 405.5 171.0 405.9 169.5 406.3 167.9 406.7 166.4 407.2 164.8 407.6 163.3 408.0 161.7 408.5 160.2 409.0 158.7 409.5 157.1 410.0 155.6 410.5 154.1 411.1 152.6 411.6 151.1 412.2 149.6 412.8 148.1 413.4 146.6 414.0 145.1 414.7 143.6 415.3 142.2 416.0 140.7 416.7 139.2 417.4 137.8 418.1 136.3 418.9 134.9 419.6 133.5 420.4 132.1 421.2 130.7 422.0 129.3 422.9 127.9 423.7 126.5 424.6 125.2 425.5 123.9 426.4 122.5 427.4 121.2 428.3 120.0 429.3 118.7 430.3 117.5 431.3 116.2 432.4 115.0 433.4 113.9 434.5 112.7 435.6 111.6 436.8 110.5 437.9 109.4 439.1 108.3 440.3 107.3 441.5 106.3 442.7 105.3 444.0 104.4 445.3 103.4 446.6 102.6 447.9 101.7 449.3 100.9 450.7 100.1 452.1 99.3 453.5 98.6 454.9 97.9 456.4 97.2 457.9 96.6 459.4 96.0 460.9 95.4 462.4 94.9 464.0 94.3 465.5 93.8 467.1 93.3 468.6 92.9 470.2 92.5 471.8 92.0 473.4 91.6 475.0 91.3 476.6 90.9 478.2 90.6 479.8 90.3 481.4 89.9 483.0 89.7 484.6 89.4 486.1 89.1 487.7 88.9 489.3 88.7 490.9 88.5 492.5 88.3 494.1 88.1 495.7 88.0 497.3 87.9 498.9 87.8 500.5 87.7 502.1 87.7 503.6 87.6 505.2 87.6 506.8 87.6 508.5 87.7 510.1 87.8 511.7 87.9 513.3 88.0 514.9 88.2 516.5 88.3 518.1 88.6 519.7 88.8 521.3 89.1 522.9 89.4 524.5 89.8 526.0 90.1 527.6 90.6 529.1 91.0 530.6 91.5 532.2 92.0 533.6 92.6 535.1 93.2 536.5 93.9 538.0 94.6 539.4 95.3 540.7 96.1 542.0 96.9 543.4 97.8 544.6 98.7 545.9 99.7 547.1 100.7 548.2 101.8 549.4 102.9 550.5 104.1 551.6 105.2 552.6 106.4 553.6 107.7 554.6 109.0 555.6 110.3 556.5 111.6 557.4 112.9 558.3 114.3 559.2 115.7 560.0 117.0 560.8 118.4 561.6 119.9 562.4 121.3 563.2 122.7 563.9 124.1 564.6 125.6 565.3 127.0 566.0 128.5 566.6 129.9 567.2 131.4 567.9 132.9 568.4 134.4 569.0 135.9 569.6 137.4 570.1 138.9 570.6 140.4 571.1 141.9 571.6 143.5 572.1 145.0 572.6 146.5 573.0 148.1 573.4 149.6 573.8 151.2 574.2 152.7 574.6 154.3 575.0 155.9 575.3 157.4 575.7 159.0 576.0 160.6 576.3 162.2 576.6 163.7 576.9 165.3 577.2 166.9 577.5 168.5 577.7 170.1 578.0 171.7 578.2 173.3 578.4 174.9 578.7 176.4 578.9 178.0 579.1 179.6 579.3 181.2 579.5 182.8 579.7 184.4 579.9 186.0 580.1 187.6 580.3 189.2 580.5 190.8 580.8 192.4 581.0 194.0 581.2 195.5 581.4 197.1 581.7 198.7 581.9 200.3 582.2 201.9 582.5 203.4 582.7 205.0 583.0 206.6 583.4 208.1 583.7 209.7 584.0 211.3 584.4 212.8 584.8 214.4 585.2 215.9 585.6 217.4 586.0 219.0 586.5 220.5 586.8 218.9 587.2 217.4 587.5 215.8 587.8 214.2 588.1 212.6 588.3 211.1 588.6 209.5 588.9 207.9 589.1 206.3 589.4 204.7 589.6 203.1 589.9 201.5 590.1 200.0 590.3 198.4 590.5 196.8 590.7 195.2 591.0 193.6 591.2 192.0 591.4 190.4 591.6 188.8 591.8 187.2 592.0 185.6 592.2 184.0 592.4 182.4 592.6 180.8 592.8 179.2 593.0 177.6 593.2 176.0 593.4 174.4 593.6 172.8 593.8 171.2 594.0 169.6 594.3 168.1 594.5 166.5 594.7 164.9 595.0 163.3 595.2 161.7 595.5 160.1 595.8 158.5 596.0 156.9 596.3 155.3 596.6 153.8 596.9 152.2 597.2 150.6 597.5 149.0 597.9 147.4 598.2 145.9 598.6 144.3 598.9 142.7 599.3 141.2 599.7 139.6 600.1 138.0 600.5 136.5 600.9 134.9 601.4 133.4 601.9 131.8 602.3 130.3 602.8 128.7 603.3 127.2 603.8 125.7 604.4 124.1 604.9 122.6 605.5 121.1 606.1 119.6 606.7 118.1 607.4 116.6 608.0 115.1 608.7 113.6 609.4 112.2 610.2 110.8 611.0 109.4 611.8 108.0 612.6 106.6 613.5 105.3 614.3 104.0 615.3 102.7 616.2 101.4 617.2 100.2 618.3 99.0 619.3 97.8 620.4 96.6 621.5 95.5 622.7 94.4 623.9 93.4 625.1 92.4 626.3 91.4 627.6 90.4 628.9 89.5 630.2 88.7 631.5 87.8 632.9 87.0 634.3 86.2 635.7 85.5 637.1 84.8 638.6 84.1 640.0 83.5 641.5 82.9 643.0 82.4 644.6 81.8 646.1 81.3 647.6 80.9 649.2 80.4 650.8 80.1 652.4 79.7 654.0 79.4 655.6 79.1 657.2 78.8 658.8 78.6 660.5 78.4 662.1 78.2 663.8 78.1 665.4 78.0 667.1 77.9 668.7 77.9 670.4 77.9 672.0 77.9 673.7 78.0 675.3 78.1 677.0 78.2 678.6 78.4 680.2 78.6 681.8 78.8 683.4 79.1 685.0 79.5 686.6 79.9 688.1 80.3 689.7 80.8 691.2 81.3 692.7 81.9 694.1 82.5 695.6 83.2 697.0 83.9 698.3 84.6 699.7 85.4 701.0 86.3 702.3 87.2 703.5 88.1 704.7 89.1 705.8 90.2 706.9 91.3 708.0 92.4 709.0 93.6 709.9 94.8 710.8 96.0 711.7 97.3 712.5 98.7 713.2 100.0 713.9 101.4 714.6 102.9 715.3 104.3 715.8 105.8 716.4 107.3 716.9 108.8 717.4 110.4 717.9 112.0 718.3 113.5 718.7 115.1 719.1 116.7 719.4 118.3 719.8 119.9 720.1 121.5 720.4 123.1 720.7 124.8 720.9 126.4 721.2 128.0 721.4 129.6 721.6 131.2 721.8 132.8 722.0 134.4 722.2 136.1 722.4 137.7 722.6 139.3 722.8 140.9 723.0 142.5 723.1 144.1 723.3 145.7 723.4 147.3 723.6 148.9 723.8 150.6 723.9 152.2 724.0 153.8 724.2 155.4 724.3 157.0 724.4 158.6 724.6 160.2 724.7 161.8 724.8 163.4 724.9 165.0 725.0 166.6 725.2 168.2 725.3 169.8 725.4 171.4 725.5 173.0 725.6 174.6 725.7 176.2 725.8 177.8 725.9 179.4 726.0 181.0 726.1 182.6 726.2 184.2 726.3 185.8 726.4 187.4 726.5 189.0 726.6 190.6 726.7 192.2 726.8 193.7 726.9 195.3 727.0 196.9 727.2 198.5 727.3 200.1 727.4 201.7 727.5 203.4 727.6 205.0 727.7 206.6 727.8 208.2 728.0 209.8 728.1 211.4 728.2 213.0 728.3 214.6 728.5 216.2 728.6 217.8 728.8 219.4 728.9 221.0 729.1 222.6 729.2 224.2 729.4 225.9 729.6 227.5 729.7 229.1 729.9 230.7 729.9 229.1 730.0 227.4 730.0 225.8 730.0 224.2 730.1 222.5 730.1 220.9 730.2 219.3 730.3 217.7 730.3 216.1 730.4 214.5 730.4 212.9 730.5 211.3 730.6 209.7 730.6 208.1 730.7 206.5 730.8 204.9 730.9 203.3 731.0 201.7 731.0 200.1 731.1 198.5 731.2 197.0 731.3 195.4 731.4 193.8 731.5 192.2 731.6 190.6 731.6 189.0 731.7 187.5 731.8 185.9 731.9 184.3 732.0 182.7 732.1 181.1 732.2 179.6 732.3 178.0 732.4 176.4 732.5 174.8 732.5 173.2 732.6 171.6 732.7 170.0 732.8 168.5 732.9 166.9 733.0 165.3 733.0 163.7 733.1 162.1 733.2 160.5 733.3 158.9 733.4 157.3 733.4 155.7 733.5 154.0 733.6 152.4 733.6 150.8 733.7 149.2 733.7 147.6 733.8 145.9 733.9 144.3 733.9 142.7 734.0 141.0 734.0 139.4 734.1 137.8 734.2 136.1 734.3 134.5 734.3 132.9 734.4 131.2 734.5 129.6 734.6 128.0 734.8 126.3 734.9 124.7 735.0 123.1 735.2 121.5 735.3 119.9 735.5 118.3 735.7 116.7 735.9 115.1 736.2 113.5 736.4 111.9 736.7 110.3 737.0 108.7 737.3 107.2 737.6 105.6 738.0 104.1 738.4 102.5 738.8 101.0 739.2 99.5 739.6 98.0 740.1 96.5 740.7 95.0 741.2 93.5 741.8 92.0 742.4 90.6 743.0 89.1 743.7 87.7 744.4 86.3 745.2 84.9 745.9 83.5 746.8 82.2 747.6 80.9 748.5 79.6 749.5 78.4 750.5 77.2 751.6 76.1 752.7 75.1 753.9 74.1 755.1 73.3 756.5 72.5 757.8 71.8 759.2 71.2 760.7 70.6 762.2 70.1 763.8 69.7 765.3 69.3 766.9 69.0 768.5 68.7 770.2 68.5 771.8 68.3 773.4 68.1 775.0 67.9 776.7 67.7 778.3 67.6 779.9 67.5 781.5 67.4 783.1 67.3 784.8 67.2 786.4 67.1 788.0 67.1 789.6 67.0 791.2 67.0 792.8 67.0 794.4 66.9 796.0 66.9 797.6 66.9 799.3 66.9 800.9 66.9 802.5 66.8 804.1 66.8 805.7 66.8 807.3 66.8 808.9 66.8 810.5 66.8 812.1 66.8 813.7 66.7 815.3 66.7 816.9 66.7 818.5 66.7 820.1 66.7 821.7 66.7 823.4 66.7 825.0 66.7 826.6 66.7 828.2 66.7 829.8 66.6 831.4 66.6 833.0 66.6 834.6 66.6 836.2 66.6 837.8 66.6 839.4 66.6 841.0 66.6 842.6 66.6 844.2 66.6 845.8 66.6 847.4 66.6 849.0 66.6 850.6 66.6 852.2 66.5 853.8 66.5 855.4 66.5 857.0 66.5 858.6 66.5 860.2 66.5 861.8 66.5 863.4 66.5 865.0 66.5 866.6 66.5 868.2 66.5 869.9 66.5 871.5 66.5 873.1 66.5 874.7 66.5 876.3 66.5 877.9 66.5 879.5 66.5 881.1 66.5 882.7 66.5 884.3 66.5 885.9 66.5 887.5 66.4 889.1 66.4 890.7 66.4 892.3 66.4 893.9 66.4 895.5 66.4 897.1 66.4 898.7 66.4 900.3 66.4 901.9 66.4 903.5 66.4 905.1 66.4 906.7 66.4 908.3 66.4 909.9 66.4 911.5 66.4 913.1 66.4 914.7 66.4 916.3 66.4 917.9 66.4 919.5 66.4 921.1 66.4 922.7 66.4 924.4 66.4 926.0 66.4 927.6 66.4 929.2 66.4 930.8 66.4 932.4 66.4 934.0 66.4 935.6 66.4 937.2 66.4 938.8 66.4 940.4 66.4 942.0 66.4 943.6 66.4 945.2 66.3 946.8 66.3 948.4 66.3 950.0 66.3 951.6 66.3 953.2 66.3 954.8 66.3 956.4 66.3 958.0 66.3 959.6 66.3 961.2 66.3 962.8 66.3 964.4 66.3 966.0 66.3 967.6 66.3 969.2 66.3 970.9 66.3 972.5 66.3 974.1 66.3 975.7 66.3 977.3 66.3 978.9 66.3 980.5 66.3 982.1 66.3 983.7 66.3 985.3 66.3 986.9 66.3 988.5 66.3 990.1 66.3 991.7 66.3 993.3 66.3 994.9 66.3 996.5 66.3 998.1 66.3 999.7 66.3 1001.3 66.3 1002.9 66.3 1004.5 66.3 1006.1 66.3 1007.7 66.3 1009.3 66.3 1010.9 66.3 1012.6 66.3 1014.2 66.3 1015.8 66.3 1017.4 66.3 1019.0 66.3 1020.6 66.3 1022.2 66.3 1023.8 66.3 1025.4 66.3 1027.0 66.3 1028.6 66.3 1030.2 66.3 1031.8 66.3 1033.4 66.3 1035.0 66.3 1036.6 66.3 1038.2 66.3 1039.8 66.3 1041.4 66.3 1043.0 66.3 1044.6 66.3 1046.2 66.3 1047.8 66.3 1049.4 66.3 1051.0 66.3 1052.7 66.3 1054.3 66.3 1055.9 66.3 1057.5 66.3 1059.1 66.3 1060.7 66.3 1062.3 66.3 1063.9 66.3 1065.5 66.3 1067.1 66.3 1068.7 66.3 1070.3 66.3 1071.9 66.3 1073.5 66.3 1075.1 66.3 1076.7 66.3 1078.3 66.3 1079.9 66.3 1081.5 66.3 1083.1 66.3 1084.7 66.3 1086.3 66.3 1087.9 66.3 1089.5 66.3 1091.1 66.3 1092.8 66.3 1094.4 66.3 1096.0 66.3 1097.6 66.3 1099.2 66.3 1100.8 66.3 1102.4 66.3 1104.0 66.3 1105.6 66.3 1107.2 66.3 1108.8 66.3 1110.4 66.3 1112.0 66.3 1113.6 66.3 1115.2 66.3 1116.8 66.3 1118.4 66.3 1120.0 66.3 1121.6 66.3 1123.2 66.3 1124.8 66.3 1126.4 66.3 1128.0 66.3 1129.6 66.3 1131.3 66.3 1132.9 66.3 1134.5 66.3 1136.1 66.3 1137.7 66.3 1139.3 66.3 1140.9 66.3 1142.5 66.3 1144.1 66.3 1145.7 66.3 1147.3 66.3 1148.9 66.3 1150.5 66.3 1152.1 66.3 1153.7 66.3 1155.3 66.3 1156.9 66.3 1158.5 66.3 1160.1 66.3 1161.7 66.3 1163.3 66.3 1164.9 66.3 1166.5 66.3 1168.1 66.3 1169.7 66.3 1171.4 66.3 1173.0 66.3 1174.6 66.3 1176.2 66.3 1177.8 66.3 1179.4 66.3 1181.0 66.3 1182.6 66.3 1184.2 66.3 1185.8 66.3 1187.4 66.3 1189.0 66.3 1190.6 66.3 1192.2 66.3 1193.8 66.3 1195.4 66.3 1197.0 66.3 1198.6 66.3 1200.2 66.3 1201.8 66.3 1203.4 66.3 1205.0 66.3 1206.6 66.3 1208.2 66.3 1209.8 66.3 1211.4 66.3 1213.1 66.3 1214.7 66.3 1216.3 66.3 1217.9 66.3 1219.5 66.3 1221.1 66.3 1222.7 66.3 1224.3 66.3 1225.9 66.3 1227.5 66.3 1229.1 66.3 1230.7 66.3 1232.3 66.3 1233.9 66.3 1235.5 66.3 1237.1 66.3 1238.7 66.3 1240.3 66.3 1241.9 66.3 1243.5 66.3 1245.1 66.3 1246.7 66.3 1248.3 66.3 1249.9 66.3 1251.5 66.3 1253.1 66.3 1254.7 66.3 1256.3 66.3 1258.0 66.3 1259.6 66.3 1261.2 66.3 1262.8 66.3 1264.4 66.3 1266.0 66.3 1267.6 66.3 1269.2 66.3 1270.8 66.3 1272.4 66.3 1274.0 66.3 1275.6 66.3 1277.2 66.3 1278.8 66.3 1280.4 66.3 1282.0 66.3 1283.6 66.3 1285.2 66.3 1286.8 66.3 1288.4 66.3 1290.0 66.3 1291.6 66.3 1293.2 66.3 1294.8 66.3 1296.4 66.3 1298.0 66.3 1299.6 66.3 1301.2 66.3 1302.8 66.3 1304.4 66.3 1306.1 66.3 1307.7 66.3 1309.3 66.3 1310.9 66.3 1312.5 66.3 1314.1 66.3 1315.7 66.3 1317.3 66.3 1318.9 66.3 1320.5 66.3 1322.1 66.3 1323.7 66.3 1325.3 66.3 1326.9 66.3 1328.5 66.3 1330.1 66.3 1331.7 66.3 1333.3 66.3 1334.9 66.3 1336.5 66.3 1338.1 66.3 1339.7 66.3 1341.3 66.3 1342.9 66.3 1344.5 66.3 1346.1 66.3 1347.7 66.3 1349.3 66.3 1350.9 66.3 1352.5 66.3 1354.2 66.3 1355.8 66.3 1357.4 66.3 1359.0 66.3 1360.6 66.3 1362.2 66.3 1363.8 66.3 1365.4 66.3 1367.0 66.3 1368.6 66.3 1370.2 66.3 1371.8 66.3 1373.4 66.3 1375.0 66.3 1376.6 66.3 1378.2 66.3 1379.8 66.3 1381.4 66.3 1383.0 66.3 1384.6 66.3 1386.2 66.3 1387.8 66.3 1389.4 66.3 1391.0 66.3 1392.6 66.3 1394.2 66.3 1395.8 66.3 1397.4 66.3 1399.1 66.3 1400.7 66.3 1402.3 66.3 1403.9 66.3 1405.5 66.3 1407.1 66.3 1408.7 66.3 1410.3 66.4 1411.9 66.4 1413.5 66.4 1415.1 66.4 1416.7 66.4 1418.3 66.4 1419.9 66.4 1421.5 66.4 1423.1 66.4 1424.7 66.4 1426.3 66.4 1427.9 66.4 1429.5 66.4 1431.1 66.4 1432.7 66.4 1434.3 66.4 1435.9 66.4 1437.5 66.4 1439.1 66.4 1440.7 66.4 1442.4 66.4 1444.0 66.4 1445.6 66.4 1447.2 66.4 1448.8 66.4 1450.4 66.4 1452.0 66.4 1453.6 66.4 1455.2 66.5 1456.8 66.5 1458.4 66.5 1460.0 66.5 1461.6 66.5 1463.2 66.5 1464.8 66.5 1466.4 66.5 1468.0 66.5 1469.6 66.5 1471.2 66.5 1472.8 66.5 1474.4 66.5 1476.0 66.5 1477.6 66.5 1479.2 66.5 1480.9 66.5 1482.5 66.5 1484.1 66.5 1485.7 66.6 1487.3 66.6 1488.9 66.6 1490.5 66.6 1492.1 66.6 1493.7 66.6 1495.3 66.6 1496.9 66.6 1498.5 66.6 1500.1 66.6 1501.7 66.6 1503.3 66.6 1504.9 66.6 1506.5 66.6 1508.1 66.6 1509.7 66.7 1511.3 66.7 1512.9 66.7 1514.5 66.7 1516.2 66.7 1517.8 66.7 1519.4 66.7 1521.0 66.7 1522.6 66.7 1524.2 66.7 1525.8 66.7 1527.4 66.7 1529.0 66.7 1530.6 66.8 1532.2 66.8 1533.8 66.8 1535.4 66.8 1537.0 66.8 1538.6 66.8 1540.2 66.8 1541.8 66.8 1543.4 66.8 1545.0 66.8 1546.6 66.8 1548.3 66.9 1549.9 66.9 1551.5 66.9 1553.1 66.9 1554.7 66.9 1556.3 66.9 1557.9 66.9 1559.5 66.9 1561.1 66.9 1562.7 67.0 1564.3 67.0 1565.9 67.0 1567.5 67.0 1569.1 67.0 1570.7 67.0 1572.3 67.0 1573.9 67.0 1575.5 67.0 1577.1 67.1 1578.7 67.1 1580.3 67.1 1581.9 67.1 1583.5 67.1 1585.1 67.1 1586.7 67.1 1588.3 67.1 1589.9 67.2 1591.5 67.2 1593.1 67.2 1594.7 67.2 1596.3 67.2 1597.9 67.2 1599.5 67.2 1601.1 67.2 1602.7 67.3 1604.3 67.3 1605.9 67.3 1607.5 67.3 1609.1 67.3 1610.7 67.3 1612.3 67.3 1613.9 67.4 1615.5 67.4 1617.1 67.4 1618.7 67.4 1620.3 67.4 1621.9 67.4 1623.5 67.5 1625.0 67.5 1626.6 67.5 1628.2 67.5 1629.8 67.5 1631.4 67.5 1633.0 67.5 1634.6 67.6 1636.2 67.6 1637.8 67.6 1639.4 67.6 1641.0 67.6 1642.6 67.7 1644.2 67.7 1645.8 67.7 1647.4 67.7 1649.0 67.7 1650.7 67.7 1652.3 67.8 1653.9 67.8 1655.6 67.8 1657.2 67.8 1658.8 67.8 1660.5 67.9 1662.1 67.9 1663.8 67.9 1665.5 68.0 1667.1 68.0 1668.8 68.1 1670.4 68.2 1672.0 68.3 1673.7 68.5 1675.3 68.7 1676.9 68.9 1678.5 69.2 1680.0 69.5 1681.5 69.9 1683.1 70.3 1684.5 70.8 1686.0 71.3 1687.4 72.0 1688.8 72.6 1690.2 73.4 1691.5 74.2 1692.8 75.0 1694.1 75.9 1695.3 76.9 1696.5 77.9 1697.6 79.0 1698.7 80.1 1699.8 81.2 1700.8 82.4 1701.8 83.6 1702.7 84.9 1703.6 86.2 1704.4 87.5 1705.2 88.9 1706.0 90.3 1706.7 91.7 1707.3 93.1 1707.9 94.6 1708.4 96.1 1708.9 97.6 1709.3 99.1 1709.7 100.7 1710.0 102.2 1710.3 103.8 1710.6 105.4 1710.8 107.0 1711.1 108.6 1711.2 110.3 1711.4 111.9 1711.5 113.5 1711.6 115.2 1711.7 116.8 1711.8 118.5 1711.9 120.1 1712.0 121.8 1712.1 123.4 1712.1 125.0 1712.2 126.7 1712.3 128.3 1712.4 129.9 1712.5 131.5 1712.6 133.1 1712.8 134.7 1713.0 136.3 1713.1 137.9 1713.3 139.4 1713.6 141.0 1713.8 142.6 1714.0 144.1 1714.3 145.7 1714.6 147.2 1714.9 148.7 1715.2 150.3 1715.6 151.9 1715.9 153.4 1716.3 155.0 1716.7 156.5 1717.1 158.1 1717.5 159.7 1717.9 158.1 1718.3 156.5 1718.7 154.9 1719.0 153.3 1719.4 151.7 1719.7 150.1 1720.0 148.5 1720.3 146.9 1720.5 145.4 1720.8 143.8 1721.1 142.2 1721.3 140.7 1721.5 139.1 1721.7 137.5 1722.0 136.0 1722.2 134.4 1722.4 132.8 1722.5 131.2 1722.7 129.7 1722.9 128.1 1723.1 126.5 1723.3 124.8 1723.4 123.2 1723.6 121.6 1723.8 119.9 1724.0 118.3 1724.2 116.7 1724.4 115.0 1724.6 113.4 1724.8 111.7 1725.0 110.1 1725.3 108.4 1725.6 106.8 1725.9 105.2 1726.2 103.6 1726.6 102.0 1727.0 100.4 1727.4 98.8 1727.9 97.3 1728.4 95.7 1728.9 94.2 1729.5 92.7 1730.1 91.3 1730.8 89.8 1731.5 88.4 1732.3 87.0 1733.1 85.7 1734.0 84.4 1735.0 83.2 1736.0 82.1 1737.1 81.0 1738.3 80.1 1739.6 79.2 1741.0 78.4 1742.5 77.8 1744.0 77.2 1745.5 76.7 1747.1 76.2 1748.8 75.8 1750.4 75.5 1752.1 75.2 1753.8 74.9 1755.4 74.7 1757.1 74.4 1758.7 74.2 1760.3 74.0 1761.9 73.9 1763.5 73.7 1765.1 73.5 1766.7 73.4 1768.3 73.3 1769.9 73.2 1771.4 73.1 1773.0 73.0 1774.6 73.0 1776.1 72.9 1777.7 72.9 1779.3 72.8 1780.8 72.8 1782.4 72.8 1784.0 72.8 1785.6 72.8 1787.2 72.8 1788.8 72.8 1790.4 72.9 1792.1 72.9 1793.7 73.0 1795.3 73.0 1797.0 73.1 1798.6 73.2 1800.3 73.3 1802.0 73.4 1803.6 73.5 1805.3 73.6 1807.0 73.8 1808.6 74.0 1810.3 74.2 1812.0 74.4 1813.6 74.6 1815.2 74.9 1816.9 75.1 1818.5 75.4 1820.1 75.8 1821.7 76.1 1823.3 76.5 1824.9 76.9 1826.5 77.3 1828.0 77.8 1829.5 78.3 1831.1 78.8 1832.5 79.4 1834.0 80.0 1835.5 80.6 1836.9 81.3 1838.3 82.0 1839.7 82.8 1841.0 83.5 1842.3 84.4 1843.6 85.2 1844.9 86.1 1846.1 87.1 1847.3 88.1 1848.4 89.1 1849.5 90.2 1850.6 91.4 1851.7 92.5 1852.7 93.8 1853.7 95.0 1854.6 96.3 1855.5 97.7 1856.4 99.0 1857.3 100.4 1858.1 101.8 1859.0 103.3 1859.7 104.7 1860.5 106.2 1861.3 107.7 1862.0 109.2 1862.7 110.7 1863.4 112.2 1864.1 113.8 1864.8 115.3 1865.4 116.8 1866.1 118.3 1866.7 119.9 1867.4 121.4 1868.0 122.9 1868.6 124.3 1869.3 125.8 1869.9 127.3 1870.5 128.8 1871.1 130.2 1871.7 131.7 1872.4 133.1 1873.0 134.6 1873.6 136.0 1874.2 137.5 1874.9 138.9 1875.5 140.4 1876.2 141.8 1876.8 143.2 1877.5 144.7 1878.1 146.1 1878.8 147.6 1879.5 149.0 1880.2 150.5 1880.9 151.9 1881.7 153.4 1882.4 154.9 1883.2 156.3 1884.0 157.8 1884.8 159.3 1885.7 157.9 1886.6 156.6 1887.5 155.2 1888.3 153.8 1889.1 152.4 1889.8 151.0 1890.6 149.5 1891.3 148.1 1892.0 146.7 1892.7 145.2 1893.4 143.7 1894.0 142.3 1894.6 140.8 1895.3 139.3 1895.9 137.8 1896.5 136.3 1897.1 134.8 1897.7 133.3 1898.3 131.7 1898.9 130.2 1899.5 128.7 1900.1 127.2 1900.7 125.6 1901.4 124.1 1902.0 122.6 1902.7 121.1 1903.5 119.7 1904.2 118.2 1905.0 116.8 1905.9 115.4 1906.7 114.1 1907.7 112.8 1908.6 111.5 1909.6 110.2 1910.7 109.0 1911.8 107.9 1913.0 106.8 1914.2 105.8 1915.4 104.8 1916.7 103.9 1918.1 103.1 1919.4 102.3 1920.8 101.5 1922.3 100.8 1923.8 100.2 1925.3 99.6 1926.8 99.0 1928.3 98.5 1929.9 98.0 1931.4 97.6 1933.0 97.1 1934.6 96.8 1936.2 96.4 1937.8 96.1 1939.4 95.9 1941.0 95.6 1942.6 95.4 1944.2 95.3 1945.8 95.1 1947.4 95.0 1949.1 95.0 1950.7 94.9 1952.3 94.9 1954.0 94.9 1955.6 95.0 1957.2 95.1 1958.9 95.2 1960.5 95.3 1962.1 95.5 1963.7 95.6 1965.4 95.8 1967.0 96.1 1968.6 96.3 1970.2 96.6 1971.8 96.9 1973.4 97.2 1975.0 97.6 1976.6 97.9 1978.2 98.3 1979.8 98.7 1981.3 99.1 1982.9 99.6 1984.4 100.0 1986.0 100.5 1987.5 101.0 1989.0 101.5 1990.5 102.0 1992.0 102.5"/>
<path stroke="#f0f" d="M314.0 77.7L315.6 77.5 317.2 77.4 318.8 77.2 320.4 77.0 322.0 76.8 323.6 76.6 325.2 76.4 326.8 76.2 328.4 76.0 330.0 75.8 331.6 75.6 333.1 75.3 334.7 75.1 336.3 74.9 337.9 74.6 339.4 74.4 341.0 74.1 342.6 73.9 344.2 73.6 345.7 73.4 347.3 73.2 348.9 72.9 350.4 72.7 352.0 72.4 353.6 72.2 355.1 71.9 356.7 71.7 358.3 71.5 359.9 71.3 361.4 71.0 363.0 70.8 364.6 70.6 366.2 70.4 367.8 70.2 369.3 70.0 370.9 69.9 372.5 69.7 374.1 69.5 375.7 69.4 377.3 69.2 378.9 69.1 380.6 69.0 382.2 68.9 383.8 68.8 385.4 68.7 387.0 68.6 388.7 68.6 390.3 68.6 391.9 68.5 393.5 68.5 395.1 68.6 396.8 68.6 398.4 68.6 400.0 68.7 401.6 68.8 403.2 68.9 404.8 69.0 406.4 69.2 408.0 69.4 409.6 69.6 411.1 69.8 412.7 70.0 414.3 70.3 415.8 70.6 417.3 70.9 418.9 71.3 420.4 71.6 421.9 72.0 423.5 72.4 425.0 72.8 426.5 73.2 428.0 73.7 429.5 74.1 431.0 74.6 432.5 75.0 434.0 75.5 435.6 76.0 437.1 76.4 438.6 76.9 440.1 77.4 441.6 77.9 443.2 78.3 444.7 78.8 446.2 79.3 447.8 79.7 449.3 80.2 450.9 80.6 452.4 81.1 454.0 81.5 455.5 81.9 457.1 82.4 458.6 82.8 460.2 83.2 461.8 83.6 463.4 84.0 464.9 84.4 466.5 84.7 468.1 85.1 469.7 85.4 471.2 85.8 472.8 86.1 474.4 86.4 476.0 86.7 477.6 87.0 479.2 87.2 480.7 87.5 482.3 87.7 483.9 87.9 485.5 88.1 487.1 88.3 488.7 88.5 490.3 88.6 491.9 88.8 493.5 88.9 495.1 89.0 496.6 89.0 498.2 89.1 499.8 89.1 501.4 89.1 503.0 89.1 504.6 89.0 506.2 89.0 507.7 88.9 509.3 88.8 510.9 88.6 512.5 88.5 514.0 88.3 515.6 88.1 517.2 87.8 518.8 87.6 520.3 87.3 521.9 87.0 523.5 86.7 525.0 86.3 526.6 86.0 528.1 85.6 529.7 85.2 531.3 84.8 532.8 84.4 534.4 84.0 535.9 83.6 537.5 83.1 539.0 82.7 540.6 82.2 542.1 81.7 543.6 81.2 545.2 80.7 546.7 80.3 548.3 79.8 549.8 79.3 551.3 78.7 552.9 78.2 554.4 77.7 555.9 77.2 557.5 76.7 559.0 76.2 560.5 75.7 562.0 75.2 563.6 74.7 565.1 74.2 566.6 73.7 568.1 73.2 569.6 72.8 571.2 72.3 572.7 71.9 574.2 71.4 575.7 71.0 577.2 70.6 578.8 70.3 580.3 70.0 581.9 69.8 583.4 69.6 585.0 69.4 586.6 69.4 588.2 69.4 589.8 69.5 591.4 69.6 593.0 69.8 594.7 70.1 596.3 70.5 597.9 70.9 599.4 71.3 601.0 71.8 602.5 72.4 604.0 73.0 605.5 73.7 606.9 74.4 608.3 75.2 609.6 75.9 611.0 76.8 612.3 77.6 613.6 78.5 614.9 79.3 616.2 80.2 617.5 81.2 618.8 82.1 620.0 83.0 621.3 83.9 622.6 84.9 623.9 85.8 625.2 86.7 626.5 87.6 627.9 88.5 629.2 89.4 630.6 90.2 631.9 91.1 633.3 91.9 634.7 92.7 636.2 93.5 637.6 94.2 639.0 95.0 640.5 95.7 641.9 96.4 643.4 97.1 644.9 97.7 646.4 98.3 647.9 98.9 649.4 99.5 650.9 100.0 652.4 100.5 654.0 101.0 655.5 101.4 657.0 101.8 658.6 102.2 660.2 102.5 661.7 102.8 663.3 103.1 664.8 103.3 666.4 103.5 668.0 103.6 669.6 103.7 671.2 103.8 672.7 103.8 674.3 103.7 675.9 103.7 677.5 103.5 679.1 103.4 680.7 103.1 682.2 102.9 683.8 102.6 685.4 102.2 686.9 101.8 688.5 101.3 690.0 100.8 691.5 100.3 692.9 99.7 694.4 99.0 695.8 98.3 697.2 97.6 698.6 96.8 700.0 95.9 701.3 95.0 702.6 94.1 703.8 93.1 705.0 92.1 706.2 91.0 707.3 89.8 708.5 88.7 709.6 87.5 710.6 86.2 711.7 85.0 712.8 83.8 714.0 82.6 715.1 81.4 716.3 80.3 717.5 79.1 718.8 78.1 720.1 77.1 721.5 76.1 722.9 75.3 724.4 74.7 725.8 74.2 727.3 74.1 728.6 74.3 729.9 74.9 731.1 75.7 732.2 76.7 733.2 77.9 734.2 79.1 735.1 80.4 736.0 81.7 736.8 83.1 737.5 84.6 738.2 86.1 738.9 87.6 739.6 89.1 740.2 90.7 740.8 92.2 741.4 93.8 742.0 95.3 742.6 96.8 743.3 98.3 743.9 99.8 744.5 101.3 745.1 102.8 745.7 104.3 746.3 105.7 747.0 107.2 747.6 108.6 748.2 110.1 748.9 111.5 749.5 113.0 750.1 114.4 750.8 115.9 751.4 117.3 752.0 118.8 752.7 120.2 753.3 121.7 754.0 123.2 754.6 124.6 755.3 126.1 755.9 127.5 756.6 129.0 757.3 130.4 757.9 131.9 758.6 133.4 759.3 134.8 760.0 136.3 760.6 137.7 761.3 139.2 762.0 140.6 762.7 142.1 763.4 143.5 764.1 145.0 764.8 146.4 765.6 147.9 766.3 149.3 767.0 150.7 767.7 152.2 768.5 153.6 769.2 155.0 770.0 156.5 770.7 157.9 771.5 159.3 772.2 160.7 773.0 162.1 773.8 163.5 774.6 164.9 775.4 166.3 776.2 167.7 777.0 169.0 777.8 170.4 778.6 171.8 779.4 173.2 780.3 174.5 781.1 175.9 782.0 177.2 782.8 178.6 783.6 179.9 784.5 181.3 785.4 182.6 786.2 184.0 787.1 185.3 788.0 186.6 788.8 188.0 789.7 189.3 790.6 190.6 791.5 192.0 792.4 193.3 793.2 194.6 794.1 195.9 795.0 197.3 795.9 198.6 796.8 199.9 797.7 201.3 798.6 202.6 799.5 203.9 800.4 205.2 801.3 206.6 802.2 207.9 803.1 209.2 804.1 210.5 805.0 211.8 805.9 213.1 806.9 214.4 807.8 215.7 808.8 217.0 809.7 218.3 810.7 219.5 811.7 220.8 812.7 222.1 813.7 223.3 814.7 224.6 815.7 225.8 816.7 227.0 817.7 228.3 818.8 229.5 819.8 230.7 820.9 231.9 821.9 233.1 823.0 234.3 824.0 235.5 825.1 236.7 826.2 237.9 827.3 239.0 828.4 240.2 829.5 241.4 830.6 242.5 831.7 243.7 832.8 244.8 833.9 246.0 835.0 247.1 836.1 248.3 837.3 249.4 838.4 250.5 839.6 251.6 840.7 252.7 841.9 253.9 843.0 255.0 844.2 256.1 845.3 257.2 846.5 258.2 847.7 259.3 848.9 260.4 850.0 261.5 851.2 262.6 852.4 263.6 853.6 264.7 854.8 265.8 856.0 266.8 857.2 267.9 858.4 268.9 859.6 270.0 860.8 271.0 862.1 272.1 863.3 273.1 864.5 274.1 865.7 275.2 867.0 276.2 868.2 277.2 869.4 278.2 870.7 279.2 871.9 280.3 873.2 281.3 874.4 282.3 875.7 283.3 876.9 284.2 878.2 285.2 879.5 286.2 880.7 287.2 882.0 288.2 883.3 289.1 884.6 290.1 885.8 291.1 887.1 292.0 888.4 293.0 889.7 294.0 891.0 294.9 892.3 295.8 893.6 296.8 894.9 297.7 896.2 298.7 897.5 299.6 898.8 300.5 900.1 301.4 901.4 302.4 902.7 303.3 904.1 304.2 905.4 305.1 906.7 306.0 908.0 306.9 909.4 307.8 910.7 308.7 912.0 309.6 913.4 310.5 914.7 311.3 916.1 312.2 917.4 313.1 918.7 313.9 920.1 314.8 921.4 315.7 922.8 316.5 924.2 317.4 925.5 318.2 926.9 319.1 928.2 319.9 929.6 320.8 931.0 321.6 932.3 322.4 933.7 323.3 935.1 324.1 936.5 324.9 937.8 325.7 939.2 326.5 940.6 327.3 942.0 328.1 943.4 328.9 944.8 329.7 946.2 330.5 947.5 331.3 948.9 332.1 950.3 332.9 951.7 333.7 953.1 334.4 954.5 335.2 955.9 336.0 957.3 336.8 958.8 337.5 960.2 338.3 961.6 339.0 963.0 339.8 964.4 340.5 965.8 341.3 967.2 342.0 968.7 342.7 970.1 343.5 971.5 344.2 972.9 344.9 974.4 345.7 975.8 346.4 977.2 347.1 978.6 347.8 980.1 348.5 981.5 349.2 982.9 349.9 984.4 350.6 985.8 351.3 987.3 352.0 988.7 352.7 990.2 353.4 991.6 354.1 993.0 354.8 994.5 355.5 995.9 356.2 997.4 356.8 998.8 357.5 1000.3 358.2 1001.8 358.9 1003.2 359.5 1004.7 360.2 1006.1 360.9 1007.6 361.5 1009.0 362.2 1010.5 362.8 1012.0 363.5 1013.4 364.1 1014.9 364.8 1016.4 365.4 1017.8 366.1 1019.3 366.7 1020.8 367.3 1022.3 368.0 1023.7 368.6 1025.2 369.2 1026.7 369.9 1028.2 370.5 1029.6 371.1 1031.1 371.7 1032.6 372.3 1034.1 372.9 1035.6 373.5 1037.1 374.1 1038.6 374.7 1040.0 375.3 1041.5 375.9 1043.0 376.5 1044.5 377.1 1046.0 377.7 1047.5 378.2 1049.0 378.8 1050.5 379.4 1052.0 379.9 1053.5 380.5 1055.0 381.1 1056.5 381.6 1058.0 382.2 1059.5 382.7 1061.0 383.2 1062.5 383.8 1064.1 384.3 1065.6 384.8 1067.1 385.4 1068.6 385.9 1070.1 386.4 1071.6 386.9 1073.1 387.4 1074.7 387.9 1076.2 388.4 1077.7 388.9 1079.2 389.4 1080.8 389.9 1082.3 390.4 1083.8 390.9 1085.3 391.3 1086.9 391.8 1088.4 392.3 1089.9 392.7 1091.5 393.2 1093.0 393.7 1094.5 394.1 1096.1 394.5 1097.6 395.0 1099.2 395.4 1100.7 395.8 1102.2 396.3 1103.8 396.7 1105.3 397.1 1106.9 397.5 1108.4 397.9 1110.0 398.3 1111.5 398.7 1113.1 399.1 1114.6 399.5 1116.2 399.8 1117.7 400.2 1119.3 400.6 1120.9 400.9 1122.4 401.3 1124.0 401.6 1125.5 402.0 1127.1 402.3 1128.7 402.6 1130.2 403.0 1131.8 403.3 1133.4 403.6 1135.0 403.9 1136.5 404.2 1138.1 404.5 1139.7 404.8 1141.2 405.1 1142.8 405.4 1144.4 405.7 1146.0 405.9 1147.6 406.2 1149.1 406.5 1150.7 406.7 1152.3 407.0 1153.9 407.2 1155.5 407.4 1157.1 407.7 1158.7 407.9 1160.2 408.1 1161.8 408.3 1163.4 408.5 1165.0 408.7 1166.6 408.9 1168.2 409.1 1169.8 409.3 1171.4 409.4 1173.0 409.6 1174.6 409.8 1176.2 409.9 1177.8 410.1 1179.4 410.2 1181.0 410.4 1182.6 410.5 1184.2 410.6 1185.8 410.7 1187.4 410.9 1189.0 411.0 1190.6 411.1 1192.2 411.2 1193.8 411.3 1195.4 411.3 1197.0 411.4 1198.6 411.5 1200.2 411.6 1201.8 411.6 1203.4 411.7 1205.0 411.7 1206.6 411.8 1208.2 411.8 1209.8 411.8 1211.4 411.8 1213.0 411.8 1214.6 411.9 1216.2 411.9 1217.8 411.9 1219.4 411.8 1221.0 411.8 1222.6 411.8 1224.2 411.8 1225.8 411.7 1227.4 411.7 1229.0 411.6 1230.6 411.6 1232.2 411.5 1233.8 411.5 1235.4 411.4 1237.0 411.3 1238.6 411.2 1240.2 411.1 1241.8 411.0 1243.4 410.9 1245.0 410.8 1246.6 410.7 1248.2 410.6 1249.8 410.4 1251.4 410.3 1253.0 410.1 1254.6 410.0 1256.2 409.8 1257.8 409.7 1259.4 409.5 1261.0 409.3 1262.6 409.1 1264.2 408.9 1265.8 408.7 1267.3 408.5 1268.9 408.3 1270.5 408.1 1272.1 407.9 1273.7 407.6 1275.3 407.4 1276.8 407.1 1278.4 406.9 1280.0 406.6 1281.6 406.4 1283.2 406.1 1284.7 405.8 1286.3 405.5 1287.9 405.2 1289.5 404.9 1291.0 404.6 1292.6 404.3 1294.2 404.0 1295.7 403.7 1297.3 403.3 1298.9 403.0 1300.4 402.6 1302.0 402.3 1303.5 401.9 1305.1 401.6 1306.7 401.2 1308.2 400.8 1309.8 400.5 1311.3 400.1 1312.9 399.7 1314.4 399.3 1316.0 398.9 1317.5 398.5 1319.1 398.1 1320.6 397.7 1322.2 397.2 1323.7 396.8 1325.3 396.4 1326.8 396.0 1328.4 395.5 1329.9 395.1 1331.4 394.6 1333.0 394.2 1334.5 393.7 1336.0 393.3 1337.6 392.8 1339.1 392.4 1340.7 391.9 1342.2 391.4 1343.7 390.9 1345.2 390.5 1346.8 390.0 1348.3 389.5 1349.8 389.0 1351.4 388.5 1352.9 388.0 1354.4 387.6 1355.9 387.1 1357.5 386.6 1359.0 386.1 1360.5 385.6 1362.0 385.1 1363.5 384.6 1365.1 384.1 1366.6 383.5 1368.1 383.0 1369.6 382.5 1371.1 382.0 1372.6 381.5 1374.2 381.0 1375.7 380.5 1377.2 379.9 1378.7 379.4 1380.2 378.9 1381.7 378.4 1383.2 377.8 1384.8 377.3 1386.3 376.8 1387.8 376.3 1389.3 375.7 1390.8 375.2 1392.3 374.7 1393.8 374.2 1395.3 373.6 1396.9 373.1 1398.4 372.6 1399.9 372.0 1401.4 371.5 1402.9 371.0 1404.4 370.5 1405.9 369.9 1407.4 369.4 1409.0 368.9 1410.5 368.3 1412.0 367.8 1413.5 367.3 1415.0 366.8 1416.5 366.2 1418.0 365.7 1419.6 365.2 1421.1 364.7 1422.6 364.2 1424.1 363.6 1425.6 363.1 1427.1 362.6 1428.7 362.1 1430.2 361.6 1431.7 361.0 1433.2 360.5 1434.7 360.0 1436.2 359.5 1437.8 359.0 1439.3 358.4 1440.8 357.9 1442.3 357.4 1443.8 356.9 1445.3 356.3 1446.9 355.8 1448.4 355.3 1449.9 354.7 1451.4 354.2 1452.9 353.7 1454.4 353.1 1455.9 352.6 1457.4 352.1 1459.0 351.5 1460.5 351.0 1462.0 350.4 1463.5 349.8 1465.0 349.3 1466.5 348.7 1468.0 348.2 1469.5 347.6 1471.0 347.0 1472.5 346.4 1473.9 345.8 1475.4 345.3 1476.9 344.7 1478.4 344.1 1479.9 343.5 1481.4 342.9 1482.8 342.2 1484.3 341.6 1485.8 341.0 1487.3 340.4 1488.7 339.7 1490.2 339.1 1491.7 338.5 1493.1 337.8 1494.6 337.1 1496.0 336.5 1497.5 335.8 1498.9 335.1 1500.4 334.5 1501.8 333.8 1503.3 333.1 1504.7 332.4 1506.2 331.7 1507.6 331.0 1509.0 330.3 1510.5 329.6 1511.9 328.9 1513.3 328.1 1514.7 327.4 1516.2 326.7 1517.6 325.9 1519.0 325.2 1520.4 324.4 1521.8 323.7 1523.2 322.9 1524.6 322.2 1526.0 321.4 1527.4 320.6 1528.8 319.9 1530.2 319.1 1531.6 318.3 1533.0 317.5 1534.4 316.7 1535.8 315.9 1537.2 315.1 1538.6 314.3 1540.0 313.5 1541.3 312.7 1542.7 311.9 1544.1 311.0 1545.5 310.2 1546.8 309.4 1548.2 308.6 1549.6 307.7 1550.9 306.9 1552.3 306.0 1553.6 305.2 1555.0 304.3 1556.4 303.4 1557.7 302.6 1559.0 301.7 1560.4 300.8 1561.7 300.0 1563.1 299.1 1564.4 298.2 1565.7 297.3 1567.1 296.4 1568.4 295.5 1569.7 294.6 1571.0 293.7 1572.4 292.8 1573.7 291.8 1575.0 290.9 1576.3 290.0 1577.6 289.1 1578.9 288.1 1580.2 287.2 1581.5 286.2 1582.8 285.3 1584.1 284.3 1585.4 283.4 1586.6 282.4 1587.9 281.4 1589.2 280.5 1590.5 279.5 1591.7 278.5 1593.0 277.5 1594.3 276.5 1595.5 275.5 1596.8 274.5 1598.0 273.5 1599.3 272.5 1600.5 271.5 1601.7 270.5 1603.0 269.5 1604.2 268.4 1605.4 267.4 1606.7 266.4 1607.9 265.3 1609.1 264.3 1610.3 263.2 1611.5 262.2 1612.7 261.1 1613.9 260.0 1615.1 259.0 1616.3 257.9 1617.4 256.8 1618.6 255.7 1619.8 254.6 1620.9 253.5 1622.1 252.4 1623.2 251.3 1624.4 250.2 1625.5 249.1 1626.7 247.9 1627.8 246.8 1628.9 245.7 1630.0 244.5 1631.1 243.4 1632.2 242.2 1633.3 241.0 1634.4 239.9 1635.5 238.7 1636.5 237.5 1637.6 236.3 1638.7 235.1 1639.7 233.9 1640.8 232.7 1641.8 231.5 1642.8 230.3 1643.9 229.0 1644.9 227.8 1645.9 226.6 1646.9 225.3 1647.9 224.1 1648.8 222.8 1649.8 221.5 1650.8 220.3 1651.7 219.0 1652.7 217.7 1653.6 216.4 1654.6 215.1 1655.5 213.8 1656.4 212.5 1657.3 211.1 1658.2 209.8 1659.1 208.5 1660.0 207.1 1660.9 205.8 1661.7 204.4 1662.6 203.1 1663.4 201.7 1664.3 200.4 1665.1 199.0 1666.0 197.6 1666.8 196.2 1667.6 194.8 1668.4 193.5 1669.2 192.1 1670.0 190.7 1670.8 189.3 1671.6 187.9 1672.4 186.5 1673.1 185.0 1673.9 183.6 1674.6 182.2 1675.4 180.8 1676.1 179.4 1676.9 177.9 1677.6 176.5 1678.3 175.1 1679.0 173.6 1679.7 172.2 1680.5 170.8 1681.1 169.3 1681.8 167.9 1682.5 166.4 1683.2 165.0 1683.9 163.5 1684.5 162.1 1685.2 160.6 1685.9 159.2 1686.5 157.7 1687.2 156.3 1687.8 154.8 1688.4 153.4 1689.1 151.9 1689.7 150.5 1690.3 149.0 1690.9 147.5 1691.5 146.1 1692.1 144.6 1692.7 143.1 1693.3 141.7 1693.9 140.2 1694.5 138.7 1695.1 137.3 1695.7 135.8 1696.3 134.3 1696.9 132.8 1697.4 131.3 1698.0 129.8 1698.6 128.4 1699.2 126.9 1699.7 125.4 1700.3 123.9 1700.9 122.4 1701.4 120.8 1702.0 119.3 1702.5 117.8 1703.1 116.3 1703.7 114.8 1704.2 113.3 1704.8 111.7 1705.3 110.2 1705.9 108.7 1706.5 107.1 1707.0 105.6 1707.6 104.0 1708.1 102.5 1708.7 100.9 1709.2 99.3 1709.8 97.8 1710.4 96.2 1710.9 94.6 1711.5 93.0 1712.1 91.5 1712.8 90.1 1713.6 88.9 1714.5 87.9 1715.5 87.1 1716.7 86.7 1718.1 86.6 1719.5 86.9 1720.9 87.4 1722.2 88.3 1723.4 89.4 1724.5 90.7 1725.5 92.1 1726.4 93.6 1727.3 95.1 1728.2 96.5 1729.0 97.9 1729.8 99.3 1730.7 100.6 1731.5 102.0 1732.3 103.3 1733.2 104.7 1734.0 106.0 1734.9 107.4 1735.8 108.7 1736.7 110.0 1737.7 111.3 1738.6 112.6 1739.6 113.8 1740.6 115.0 1741.7 116.2 1742.7 117.4 1743.8 118.5 1745.0 119.6 1746.1 120.7 1747.3 121.7 1748.6 122.7 1749.8 123.6 1751.2 124.5 1752.5 125.3 1753.9 126.1 1755.3 126.8 1756.8 127.4 1758.3 128.0 1759.8 128.6 1761.4 129.1 1762.9 129.6 1764.5 130.0 1766.1 130.3 1767.7 130.6 1769.4 130.9 1771.0 131.1 1772.6 131.3 1774.2 131.4 1775.9 131.4 1777.5 131.5 1779.1 131.4 1780.7 131.4 1782.3 131.3 1783.9 131.1 1785.4 130.9 1787.0 130.7 1788.5 130.4 1790.1 130.1 1791.6 129.8 1793.1 129.4 1794.7 129.0 1796.2 128.6 1797.7 128.1 1799.2 127.7 1800.7 127.1 1802.2 126.6 1803.7 126.1 1805.2 125.5 1806.6 124.9 1808.1 124.3 1809.6 123.6 1811.1 123.0 1812.5 122.3 1814.0 121.6 1815.4 120.9 1816.9 120.2 1818.3 119.4 1819.7 118.7 1821.1 117.9 1822.5 117.0 1823.9 116.2 1825.2 115.3 1826.6 114.4 1827.9 113.5 1829.2 112.6 1830.5 111.6 1831.7 110.6 1833.0 109.6 1834.2 108.6 1835.4 107.5 1836.6 106.5 1837.8 105.4 1839.0 104.4 1840.2 103.3 1841.4 102.2 1842.6 101.2 1843.7 100.1 1845.0 99.1 1846.2 98.0 1847.4 97.0 1848.6 96.0 1849.9 95.0 1851.2 94.1 1852.5 93.2 1853.8 92.3 1855.1 91.4 1856.5 90.6 1857.8 89.8 1859.2 89.0 1860.6 88.2 1862.0 87.5 1863.5 86.8 1864.9 86.2 1866.4 85.5 1867.9 84.9 1869.4 84.3 1870.9 83.8 1872.5 83.3 1874.0 82.8 1875.6 82.3 1877.1 81.9 1878.7 81.5 1880.3 81.2 1881.9 80.9 1883.5 80.6 1885.1 80.4 1886.7 80.2 1888.3 80.1 1889.9 80.1 1891.5 80.2 1893.1 80.3 1894.7 80.5 1896.2 80.8 1897.8 81.1 1899.3 81.5 1900.8 81.9 1902.3 82.4 1903.8 82.9 1905.3 83.4 1906.9 84.0 1908.4 84.5 1909.9 85.0 1911.4 85.6 1912.9 86.1 1914.5 86.6 1916.0 87.1 1917.5 87.5 1919.1 88.0 1920.6 88.4 1922.2 88.8 1923.7 89.2 1925.3 89.6 1926.8 90.0 1928.4 90.3 1930.0 90.7 1931.5 91.0 1933.1 91.2 1934.7 91.5 1936.3 91.7 1937.9 92.0 1939.4 92.2 1941.0 92.3 1942.6 92.5 1944.2 92.6 1945.8 92.7 1947.4 92.8 1949.0 92.9 1950.6 92.9 1952.2 93.0 1953.8 93.0 1955.4 93.0 1957.0 92.9 1958.6 92.9 1960.2 92.8 1961.8 92.8 1963.4 92.7 1965.0 92.6 1966.6 92.5 1968.2 92.3 1969.8 92.2 1971.4 92.0 1973.0 91.9 1974.6 91.7 1976.2 91.5 1977.8 91.3 1979.4 91.1 1981.0 90.8 1982.5 90.6 1984.1 90.3 1985.7 90.1 1987.3 89.8 1988.9 89.6 1990.4 89.3 1992.0 89.0"/>
</g>
<path d="M332.8,138.8 H1747.4" stroke="#000" stroke-width="3.4" stroke-dasharray="13.9 14.906" fill="none"/>
<g font-family="'Liberation Serif', 'Times New Roman', serif" fill="#000"><text x="272.69" y="94.70" font-size="87.5" textLength="43.41" lengthAdjust="spacingAndGlyphs" >0</text><text x="202.95" y="236.55" font-size="87.5" textLength="113.08" lengthAdjust="spacingAndGlyphs" >-20</text><text x="202.95" y="378.40" font-size="87.5" textLength="113.08" lengthAdjust="spacingAndGlyphs" >-40</text><text x="202.95" y="520.25" font-size="87.5" textLength="113.08" lengthAdjust="spacingAndGlyphs" >-60</text><text x="202.95" y="662.10" font-size="87.5" textLength="113.08" lengthAdjust="spacingAndGlyphs" >-80</text><text x="160.65" y="803.95" font-size="87.5" textLength="155.37" lengthAdjust="spacingAndGlyphs" >-100</text><text x="160.65" y="945.80" font-size="87.5" textLength="155.37" lengthAdjust="spacingAndGlyphs" >-120</text><text x="323.00" y="1013.3" font-size="87.5" text-anchor="middle">2</text><text x="602.42" y="1013.3" font-size="87.5" text-anchor="middle">3</text><text x="881.84" y="1013.3" font-size="87.5" text-anchor="middle">4</text><text x="1161.26" y="1013.3" font-size="87.5" text-anchor="middle">5</text><text x="1440.68" y="1013.3" font-size="87.5" text-anchor="middle">6</text><text x="1720.10" y="1013.3" font-size="87.5" text-anchor="middle">7</text><text x="1999.52" y="1013.3" font-size="87.5" text-anchor="middle">8</text></g>
<g font-family="'Liberation Serif', 'Times New Roman', serif" fill="#000"><text x="815.66" y="1108.60" font-size="87" textLength="356.77" lengthAdjust="spacingAndGlyphs" >Frequency</text><text x="1211.15" y="1108.60" font-size="87" textLength="218.00" lengthAdjust="spacingAndGlyphs" >(GHz)</text></g>
<g transform="translate(107.5,640) rotate(-90)" font-family="'Liberation Serif', 'Times New Roman', serif" fill="#000"><text x="-2.13" y="0.00" font-size="87.5" textLength="13.67" lengthAdjust="spacingAndGlyphs" >|</text><text x="12.34" y="0.00" font-size="87.5" textLength="50.38" lengthAdjust="spacingAndGlyphs" >S</text><text x="58.91" y="25.60" font-size="58.5" textLength="56.59" lengthAdjust="spacingAndGlyphs" >21</text><text x="119.31" y="0.00" font-size="87.5" textLength="17.28" lengthAdjust="spacingAndGlyphs" >|</text><text x="223.00" y="0.00" font-size="87.5" textLength="100.19" lengthAdjust="spacingAndGlyphs" >dB</text><text x="97.87" y="-4.25" font-size="78.6" font-family="'Liberation Serif', 'Noto Sans CJK SC', sans-serif">（</text><text x="327.38" y="-4.25" font-size="78.6" font-family="'Liberation Serif', 'Noto Sans CJK SC', sans-serif">）</text></g>
<g font-family="'Liberation Serif', 'Times New Roman', serif" fill="#000"><path d="M382.2,515.60 H535.2" stroke="#000" stroke-width="7.8" stroke-linecap="round"/><text x="551.64" y="538.30" font-size="71.5" textLength="135.98" lengthAdjust="spacingAndGlyphs" >ADS</text><text x="718.67" y="538.60" font-size="71.5" textLength="13.67" lengthAdjust="spacingAndGlyphs" >|</text><text x="729.04" y="538.30" font-size="71.5" textLength="41.26" lengthAdjust="spacingAndGlyphs" >S</text><text x="769.22" y="559.10" font-size="47" textLength="42.96" lengthAdjust="spacingAndGlyphs" >11</text><text x="814.17" y="538.60" font-size="71.5" textLength="13.67" lengthAdjust="spacingAndGlyphs" >|</text><path d="M382.2,616.70 H535.2" stroke="#f00" stroke-width="7.8" stroke-linecap="round"/><text x="551.64" y="639.50" font-size="71.5" textLength="135.98" lengthAdjust="spacingAndGlyphs" >ADS</text><text x="718.67" y="639.80" font-size="71.5" textLength="13.67" lengthAdjust="spacingAndGlyphs" >|</text><text x="729.04" y="639.50" font-size="71.5" textLength="41.26" lengthAdjust="spacingAndGlyphs" >S</text><text x="771.20" y="660.30" font-size="47" textLength="40.85" lengthAdjust="spacingAndGlyphs" >21</text><text x="814.17" y="639.80" font-size="71.5" textLength="13.67" lengthAdjust="spacingAndGlyphs" >|</text><path d="M382.2,717.40 H535.2" stroke="#00f" stroke-width="7.8" stroke-linecap="round"/><text x="550.55" y="740.20" font-size="71.5" textLength="161.64" lengthAdjust="spacingAndGlyphs" >HFSS</text><text x="726.47" y="740.50" font-size="71.5" textLength="13.67" lengthAdjust="spacingAndGlyphs" >|</text><text x="736.15" y="740.20" font-size="71.5" textLength="42.83" lengthAdjust="spacingAndGlyphs" >S</text><text x="777.85" y="761.00" font-size="47" textLength="41.55" lengthAdjust="spacingAndGlyphs" >11</text><text x="821.47" y="740.50" font-size="71.5" textLength="13.67" lengthAdjust="spacingAndGlyphs" >|</text><path d="M382.2,818.00 H535.2" stroke="#f0f" stroke-width="7.8" stroke-linecap="round"/><text x="550.55" y="840.80" font-size="71.5" textLength="161.64" lengthAdjust="spacingAndGlyphs" >HFSS</text><text x="726.47" y="841.10" font-size="71.5" textLength="13.67" lengthAdjust="spacingAndGlyphs" >|</text><text x="736.15" y="840.80" font-size="71.5" textLength="42.83" lengthAdjust="spacingAndGlyphs" >S</text><text x="779.76" y="861.60" font-size="47" textLength="39.51" lengthAdjust="spacingAndGlyphs" >21</text><text x="821.47" y="841.10" font-size="71.5" textLength="13.67" lengthAdjust="spacingAndGlyphs" >|</text></g>
</svg>
</body></html>
